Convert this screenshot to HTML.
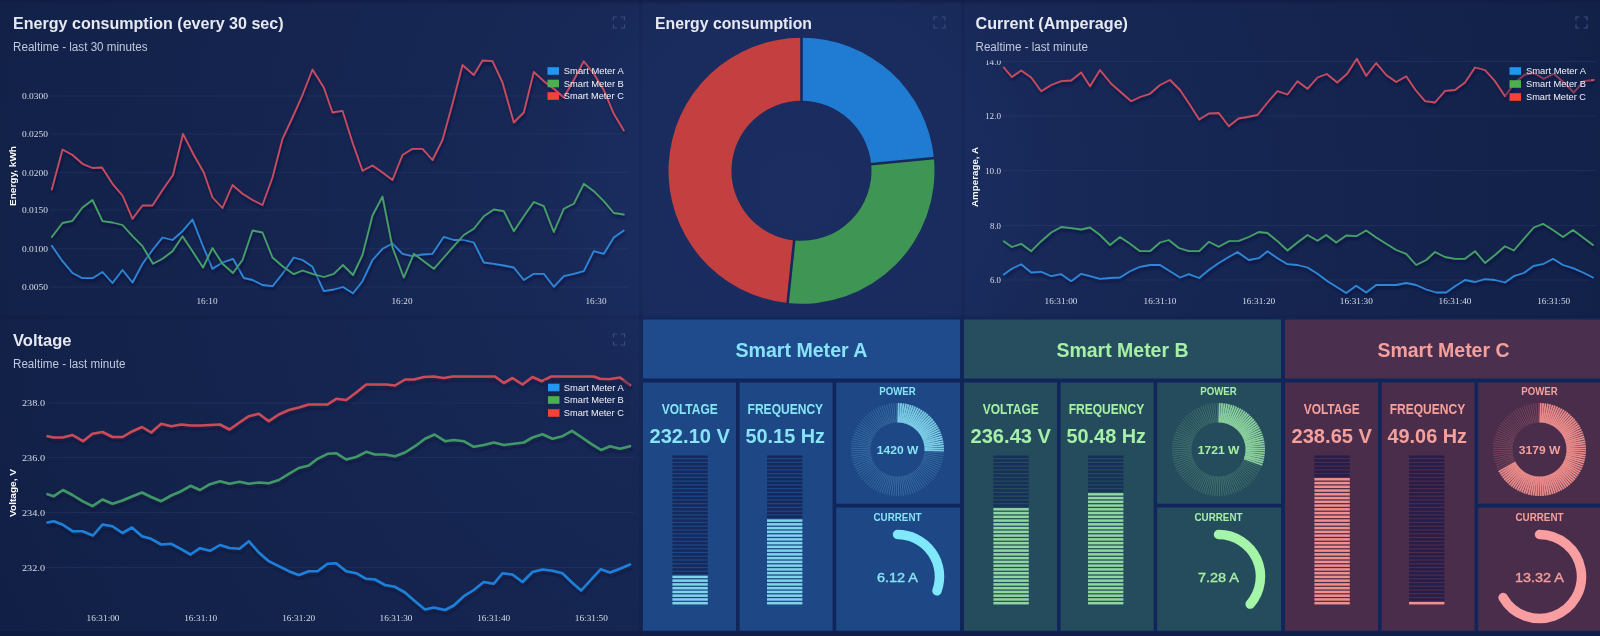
<!DOCTYPE html>
<html><head><meta charset="utf-8"><title>Smart Energy Dashboard</title>
<style>
html,body{margin:0;padding:0;background:#14234c;}
body{width:1600px;height:636px;overflow:hidden;font-family:"Liberation Sans",sans-serif;}
svg{display:block;filter:blur(0.55px);}
</style></head><body>
<svg width="1600" height="636" viewBox="0 0 1600 636">
<defs>
<radialGradient id="pg" gradientUnits="userSpaceOnUse" cx="800" cy="190" r="900"><stop offset="0" stop-color="#1b2d61"/><stop offset="0.2" stop-color="#1a2c5e"/><stop offset="0.32" stop-color="#172856"/><stop offset="0.56" stop-color="#152550"/><stop offset="0.84" stop-color="#13224a"/><stop offset="1" stop-color="#111f46"/></radialGradient>
<linearGradient id="topg" x1="0" y1="0" x2="0" y2="1"><stop offset="0" stop-color="#121c45" stop-opacity="0.9"/><stop offset="1" stop-color="#121c45" stop-opacity="0"/></linearGradient>
<filter id="sh" x="-5%" y="-20%" width="110%" height="150%"><feDropShadow dx="1" dy="2.5" stdDeviation="1.6" flood-color="#0a1030" flood-opacity="0.6"/></filter>
<clipPath id="c14"><rect x="980" y="60.5" width="30" height="10"/></clipPath>
</defs>
<rect x="0" y="0" width="1600" height="636" fill="url(#pg)"/>
<rect x="639" y="0" width="4" height="318" fill="#0c1538" fill-opacity="0.14"/>
<rect x="961" y="0" width="4" height="318" fill="#0c1538" fill-opacity="0.14"/>
<rect x="0" y="315.5" width="1600" height="3.5" fill="#0c1538" fill-opacity="0.14"/>
<rect x="639" y="318" width="4" height="318" fill="#0c1538" fill-opacity="0.14"/>
<rect x="0" y="0" width="1600" height="5" fill="url(#topg)"/>
<line x1="50" y1="96" x2="628" y2="96" stroke="#34447a" stroke-opacity="0.32" stroke-width="1"/><line x1="50" y1="134" x2="628" y2="134" stroke="#34447a" stroke-opacity="0.32" stroke-width="1"/><line x1="50" y1="172.5" x2="628" y2="172.5" stroke="#34447a" stroke-opacity="0.32" stroke-width="1"/><line x1="50" y1="210" x2="628" y2="210" stroke="#34447a" stroke-opacity="0.32" stroke-width="1"/><line x1="50" y1="248.75" x2="628" y2="248.75" stroke="#34447a" stroke-opacity="0.32" stroke-width="1"/><line x1="50" y1="287" x2="628" y2="287" stroke="#34447a" stroke-opacity="0.32" stroke-width="1"/>
<text x="13.0" y="29.0" font-family="Liberation Sans, sans-serif" font-size="15.8" font-weight="bold" fill="#e6e9f2" text-anchor="start" textLength="270.6" lengthAdjust="spacingAndGlyphs">Energy consumption (every 30 sec)</text>
<text x="13.0" y="51.0" font-family="Liberation Sans, sans-serif" font-size="12" font-weight="normal" fill="#c2c8dc" text-anchor="start" textLength="134.6" lengthAdjust="spacingAndGlyphs">Realtime - last 30 minutes</text>
<text x="22.0" y="99.0" font-family="Liberation Serif, sans-serif" font-size="9" font-weight="normal" fill="#d9ddea" text-anchor="start" textLength="26.0" lengthAdjust="spacingAndGlyphs">0.0300</text>
<text x="22.0" y="137.0" font-family="Liberation Serif, sans-serif" font-size="9" font-weight="normal" fill="#d9ddea" text-anchor="start" textLength="26.0" lengthAdjust="spacingAndGlyphs">0.0250</text>
<text x="22.0" y="175.5" font-family="Liberation Serif, sans-serif" font-size="9" font-weight="normal" fill="#d9ddea" text-anchor="start" textLength="26.0" lengthAdjust="spacingAndGlyphs">0.0200</text>
<text x="22.0" y="213.0" font-family="Liberation Serif, sans-serif" font-size="9" font-weight="normal" fill="#d9ddea" text-anchor="start" textLength="26.0" lengthAdjust="spacingAndGlyphs">0.0150</text>
<text x="22.0" y="251.8" font-family="Liberation Serif, sans-serif" font-size="9" font-weight="normal" fill="#d9ddea" text-anchor="start" textLength="26.0" lengthAdjust="spacingAndGlyphs">0.0100</text>
<text x="22.0" y="290.0" font-family="Liberation Serif, sans-serif" font-size="9" font-weight="normal" fill="#d9ddea" text-anchor="start" textLength="26.0" lengthAdjust="spacingAndGlyphs">0.0050</text>
<text x="196.5" y="304.0" font-family="Liberation Serif, sans-serif" font-size="9" font-weight="normal" fill="#d9ddea" text-anchor="start" textLength="21.0" lengthAdjust="spacingAndGlyphs">16:10</text>
<text x="391.5" y="304.0" font-family="Liberation Serif, sans-serif" font-size="9" font-weight="normal" fill="#d9ddea" text-anchor="start" textLength="21.0" lengthAdjust="spacingAndGlyphs">16:20</text>
<text x="585.5" y="304.0" font-family="Liberation Serif, sans-serif" font-size="9" font-weight="normal" fill="#d9ddea" text-anchor="start" textLength="21.0" lengthAdjust="spacingAndGlyphs">16:30</text>
<g transform="translate(15.5,176) rotate(-90)"><text x="-30.0" y="0.0" font-family="Liberation Sans, sans-serif" font-size="9" font-weight="bold" fill="#fff" text-anchor="start" textLength="60.0" lengthAdjust="spacingAndGlyphs">Energy, kWh</text></g>
<polyline points="51.8,245.8 62.5,261.2 72.5,273.0 82.5,278.2 92.5,278.2 102.5,272.0 112.5,283.0 122.5,270.0 132.5,282.5 142.5,263.8 152.5,250.0 162.5,237.5 172.5,240.0 182.5,231.2 192.5,219.5 202.5,245.0 212.5,268.8 222.5,262.5 233.0,258.8 243.8,278.0 252.5,280.0 262.5,285.0 272.5,286.2 282.5,273.8 293.8,257.5 302.5,260.0 312.5,266.8 323.8,291.2 333.8,289.5 343.0,287.0 353.0,293.2 362.5,281.2 372.5,260.0 382.5,248.8 392.5,243.5 402.5,253.8 412.5,256.2 422.5,254.5 432.5,253.8 443.8,236.8 453.8,240.0 463.8,240.0 473.8,242.5 483.8,262.5 493.8,263.8 503.8,265.5 513.8,267.5 523.8,280.0 533.8,273.8 543.8,273.8 553.8,286.8 563.8,276.2 573.8,273.8 583.8,271.2 593.8,251.2 603.8,253.8 613.8,237.5 623.8,230.5" fill="none" stroke="#2e86d8" stroke-width="1.8" stroke-linejoin="round" stroke-linecap="round" filter="url(#sh)"/>
<polyline points="51.8,237.0 62.5,223.0 72.5,220.8 82.5,207.5 92.5,200.0 102.5,221.2 112.5,222.5 122.5,225.0 132.5,236.2 142.5,246.2 153.0,263.8 162.5,258.8 172.5,251.2 182.5,236.2 192.5,251.2 203.0,267.5 212.5,248.0 222.5,263.8 233.0,273.0 242.5,260.0 252.5,230.5 262.5,232.5 272.5,257.5 282.5,266.2 293.8,274.2 302.5,270.5 312.5,273.8 323.8,277.0 333.8,273.8 343.0,265.0 353.0,275.0 362.5,255.0 372.5,215.5 382.5,196.5 392.5,247.5 403.8,277.5 413.8,253.8 423.8,261.2 433.8,268.8 443.8,257.5 453.8,246.2 463.8,235.0 473.8,228.8 483.8,216.2 493.8,209.5 503.8,211.2 513.8,231.2 523.8,216.2 533.8,202.0 543.8,206.2 553.8,232.0 563.8,208.8 573.8,203.8 583.8,183.8 593.8,191.2 603.8,201.2 613.8,213.0 623.8,214.5" fill="none" stroke="#46a068" stroke-width="1.8" stroke-linejoin="round" stroke-linecap="round" filter="url(#sh)"/>
<polyline points="51.8,189.5 62.5,149.5 72.5,155.0 82.5,163.8 92.5,168.0 102.0,167.5 112.5,183.8 122.5,195.5 132.5,218.8 142.5,205.5 152.5,205.5 162.5,190.0 173.0,175.0 183.0,133.8 193.8,155.0 203.8,172.5 212.5,197.5 222.5,208.0 232.5,185.0 242.5,193.8 252.5,200.0 262.5,205.0 272.5,177.5 282.5,138.8 292.5,117.5 302.5,95.0 312.5,69.5 323.8,87.5 332.5,112.5 342.5,110.8 352.5,142.5 362.5,170.8 372.5,165.5 382.5,172.5 392.5,180.0 402.5,155.0 412.5,148.8 422.5,148.8 432.5,160.0 442.5,140.0 452.5,103.8 462.5,65.0 473.8,75.0 482.5,60.5 492.5,61.2 502.5,82.5 513.8,122.5 523.8,112.5 533.8,72.0 543.8,81.2 553.8,88.8 563.8,97.5 573.8,80.0 583.8,61.2 593.8,73.8 603.8,90.0 613.8,113.8 623.8,130.5" fill="none" stroke="#c94c60" stroke-width="1.8" stroke-linejoin="round" stroke-linecap="round" filter="url(#sh)"/>
<rect x="547.5" y="67.2" width="11.5" height="7.6" fill="#2196f3"/><text x="563.8" y="74.2" font-family="Liberation Sans, sans-serif" font-size="9" font-weight="normal" fill="#f0f2f8" text-anchor="start" textLength="60.0" lengthAdjust="spacingAndGlyphs">Smart Meter A</text><rect x="547.5" y="79.7" width="11.5" height="7.6" fill="#4caf50"/><text x="563.8" y="86.7" font-family="Liberation Sans, sans-serif" font-size="9" font-weight="normal" fill="#f0f2f8" text-anchor="start" textLength="60.0" lengthAdjust="spacingAndGlyphs">Smart Meter B</text><rect x="547.5" y="92.2" width="11.5" height="7.6" fill="#f44336"/><text x="563.8" y="99.2" font-family="Liberation Sans, sans-serif" font-size="9" font-weight="normal" fill="#f0f2f8" text-anchor="start" textLength="60.0" lengthAdjust="spacingAndGlyphs">Smart Meter C</text>
<path d="M613.5,20.5V17H617.0 M621.0,17H624.5V20.5 M624.5,24.5V28H621.0 M617.0,28H613.5V24.5" fill="none" stroke="#384a80" stroke-width="1.2"/>
<text x="655.0" y="29.0" font-family="Liberation Sans, sans-serif" font-size="15.8" font-weight="bold" fill="#e6e9f2" text-anchor="start" textLength="157.0" lengthAdjust="spacingAndGlyphs">Energy consumption</text>
<path d="M934,20.5V17H937.5 M941.5,17H945V20.5 M945,24.5V28H941.5 M937.5,28H934V24.5" fill="none" stroke="#384a80" stroke-width="1.2"/>
<path d="M801.50,37.80 A133,133 0 0 1 933.89,158.05 L871.18,164.09 A70,70 0 0 0 801.50,100.80 Z" fill="#207cd2"/>
<path d="M933.89,158.05 A133,133 0 0 1 787.60,303.07 L794.18,240.42 A70,70 0 0 0 871.18,164.09 Z" fill="#3f9553"/>
<path d="M787.60,303.07 A133,133 0 0 1 801.50,37.80 L801.50,100.80 A70,70 0 0 0 794.18,240.42 Z" fill="#c44040"/>
<line x1="801.50" y1="101.80" x2="801.50" y2="36.80" stroke="#17285a" stroke-width="2.6"/>
<line x1="870.18" y1="164.19" x2="934.88" y2="157.96" stroke="#17285a" stroke-width="2.6"/>
<line x1="794.29" y1="239.42" x2="787.49" y2="304.07" stroke="#17285a" stroke-width="2.6"/>
<line x1="1002" y1="61.5" x2="1596" y2="61.5" stroke="#34447a" stroke-opacity="0.32" stroke-width="1"/><line x1="1002" y1="116" x2="1596" y2="116" stroke="#34447a" stroke-opacity="0.32" stroke-width="1"/><line x1="1002" y1="170.5" x2="1596" y2="170.5" stroke="#34447a" stroke-opacity="0.32" stroke-width="1"/><line x1="1002" y1="225.5" x2="1596" y2="225.5" stroke="#34447a" stroke-opacity="0.32" stroke-width="1"/><line x1="1002" y1="280" x2="1596" y2="280" stroke="#34447a" stroke-opacity="0.32" stroke-width="1"/>
<text x="975.5" y="29.0" font-family="Liberation Sans, sans-serif" font-size="15.8" font-weight="bold" fill="#e6e9f2" text-anchor="start" textLength="152.5" lengthAdjust="spacingAndGlyphs">Current (Amperage)</text>
<text x="975.5" y="51.0" font-family="Liberation Sans, sans-serif" font-size="12" font-weight="normal" fill="#c2c8dc" text-anchor="start" textLength="112.5" lengthAdjust="spacingAndGlyphs">Realtime - last minute</text>
<text x="985.0" y="64.5" font-family="Liberation Serif, sans-serif" font-size="9" font-weight="normal" fill="#d9ddea" text-anchor="start" textLength="16.0" lengthAdjust="spacingAndGlyphs" clip-path="url(#c14)">14.0</text>
<text x="985.0" y="119.0" font-family="Liberation Serif, sans-serif" font-size="9" font-weight="normal" fill="#d9ddea" text-anchor="start" textLength="16.0" lengthAdjust="spacingAndGlyphs">12.0</text>
<text x="985.0" y="173.5" font-family="Liberation Serif, sans-serif" font-size="9" font-weight="normal" fill="#d9ddea" text-anchor="start" textLength="16.0" lengthAdjust="spacingAndGlyphs">10.0</text>
<text x="990.0" y="228.5" font-family="Liberation Serif, sans-serif" font-size="9" font-weight="normal" fill="#d9ddea" text-anchor="start" textLength="11.0" lengthAdjust="spacingAndGlyphs">8.0</text>
<text x="990.0" y="283.0" font-family="Liberation Serif, sans-serif" font-size="9" font-weight="normal" fill="#d9ddea" text-anchor="start" textLength="11.0" lengthAdjust="spacingAndGlyphs">6.0</text>
<text x="1044.5" y="303.8" font-family="Liberation Serif, sans-serif" font-size="9" font-weight="normal" fill="#d9ddea" text-anchor="start" textLength="33.0" lengthAdjust="spacingAndGlyphs">16:31:00</text>
<text x="1143.5" y="303.8" font-family="Liberation Serif, sans-serif" font-size="9" font-weight="normal" fill="#d9ddea" text-anchor="start" textLength="33.0" lengthAdjust="spacingAndGlyphs">16:31:10</text>
<text x="1242.2" y="303.8" font-family="Liberation Serif, sans-serif" font-size="9" font-weight="normal" fill="#d9ddea" text-anchor="start" textLength="33.0" lengthAdjust="spacingAndGlyphs">16:31:20</text>
<text x="1339.8" y="303.8" font-family="Liberation Serif, sans-serif" font-size="9" font-weight="normal" fill="#d9ddea" text-anchor="start" textLength="33.0" lengthAdjust="spacingAndGlyphs">16:31:30</text>
<text x="1438.5" y="303.8" font-family="Liberation Serif, sans-serif" font-size="9" font-weight="normal" fill="#d9ddea" text-anchor="start" textLength="33.0" lengthAdjust="spacingAndGlyphs">16:31:40</text>
<text x="1537.2" y="303.8" font-family="Liberation Serif, sans-serif" font-size="9" font-weight="normal" fill="#d9ddea" text-anchor="start" textLength="33.0" lengthAdjust="spacingAndGlyphs">16:31:50</text>
<g transform="translate(978,177) rotate(-90)"><text x="-30.0" y="0.0" font-family="Liberation Sans, sans-serif" font-size="9" font-weight="bold" fill="#fff" text-anchor="start" textLength="60.0" lengthAdjust="spacingAndGlyphs">Amperage, A</text></g>
<polyline points="1003.8,274.5 1011.8,268.8 1021.2,264.2 1031.2,272.5 1041.2,271.8 1051.2,276.2 1061.2,274.2 1071.2,281.2 1081.2,273.8 1090.0,276.2 1100.0,278.8 1110.0,278.0 1120.0,277.5 1130.0,271.2 1140.0,266.8 1150.0,265.0 1160.0,265.0 1170.0,271.2 1180.0,277.5 1188.8,274.2 1199.2,278.0 1208.8,270.0 1218.8,263.0 1228.8,257.0 1237.5,252.0 1248.8,260.0 1258.8,258.2 1267.5,251.2 1277.5,258.2 1287.5,264.2 1297.5,265.0 1307.5,267.5 1317.5,273.8 1327.5,281.2 1337.5,287.5 1346.2,293.0 1356.2,285.8 1366.2,292.5 1376.2,285.0 1386.2,285.0 1396.2,285.0 1406.2,283.0 1416.2,285.0 1426.2,289.5 1436.2,292.5 1446.2,292.5 1455.0,286.2 1465.0,280.0 1475.0,282.0 1485.0,279.2 1495.0,280.0 1505.0,282.5 1513.8,276.2 1523.8,273.0 1533.8,265.8 1543.8,263.8 1553.0,258.8 1563.0,265.0 1573.0,268.2 1583.0,272.5 1593.0,277.5" fill="none" stroke="#2e86d8" stroke-width="1.8" stroke-linejoin="round" stroke-linecap="round" filter="url(#sh)"/>
<polyline points="1003.8,241.2 1011.8,247.0 1021.2,243.8 1031.2,251.2 1041.2,241.2 1051.2,232.5 1061.2,227.0 1071.2,228.2 1081.2,229.5 1090.0,227.5 1100.0,235.0 1110.0,245.0 1120.0,237.0 1130.0,243.8 1140.0,251.2 1150.0,251.2 1160.0,242.5 1168.8,240.0 1178.8,248.0 1188.8,251.2 1199.2,251.2 1208.8,241.8 1218.8,246.8 1228.8,241.2 1238.8,240.8 1248.8,237.0 1258.8,232.0 1267.5,233.0 1277.5,241.2 1287.5,250.5 1297.5,242.5 1307.5,235.0 1317.5,240.8 1326.2,235.0 1336.2,242.5 1346.2,235.5 1356.2,236.2 1366.2,230.5 1376.2,237.5 1386.2,243.8 1396.2,250.0 1406.2,253.8 1416.2,265.0 1426.2,260.0 1435.0,252.0 1445.0,257.0 1455.0,258.8 1465.0,258.8 1475.0,251.2 1485.0,263.0 1495.0,255.0 1505.0,246.2 1513.8,250.5 1523.8,238.8 1533.8,227.5 1543.0,223.8 1553.0,230.0 1563.0,237.0 1573.0,230.0 1583.0,237.5 1593.0,245.0" fill="none" stroke="#46a068" stroke-width="1.8" stroke-linejoin="round" stroke-linecap="round" filter="url(#sh)"/>
<polyline points="1003.8,67.5 1011.8,77.0 1021.2,70.5 1031.2,77.5 1041.2,91.2 1051.2,85.0 1061.2,81.2 1071.2,80.5 1081.2,72.5 1090.0,86.2 1100.0,70.0 1111.2,83.8 1121.2,92.5 1131.2,101.2 1140.0,97.0 1150.0,93.8 1160.0,85.0 1170.0,80.0 1180.0,90.0 1190.0,105.0 1199.2,119.5 1208.8,113.5 1218.8,113.0 1228.8,126.2 1238.5,118.5 1247.5,117.0 1257.5,115.0 1267.5,102.5 1277.5,91.2 1287.5,94.5 1297.5,81.2 1307.5,88.8 1317.5,77.5 1326.8,74.0 1337.2,82.5 1347.2,73.8 1356.8,58.8 1366.2,75.8 1376.2,63.0 1386.2,75.0 1396.2,82.0 1406.2,76.2 1415.5,90.0 1425.0,101.2 1435.0,102.5 1445.0,90.8 1455.0,90.0 1465.0,82.5 1475.0,67.5 1485.0,70.0 1495.0,81.2 1505.0,96.2 1515.0,82.5 1525.0,74.5 1533.8,73.0 1543.8,78.8 1553.8,73.8 1563.8,82.5 1573.8,92.5 1583.8,81.2 1593.8,80.0" fill="none" stroke="#c94c60" stroke-width="1.8" stroke-linejoin="round" stroke-linecap="round" filter="url(#sh)"/>
<rect x="1505" y="63" width="86" height="42" fill="#14214e" fill-opacity="0.35"/><rect x="1509.5" y="67.2" width="11.5" height="7.6" fill="#2196f3"/><text x="1526.0" y="74.2" font-family="Liberation Sans, sans-serif" font-size="9" font-weight="normal" fill="#f0f2f8" text-anchor="start" textLength="60.0" lengthAdjust="spacingAndGlyphs">Smart Meter A</text><rect x="1509.5" y="80.2" width="11.5" height="7.6" fill="#4caf50"/><text x="1526.0" y="87.2" font-family="Liberation Sans, sans-serif" font-size="9" font-weight="normal" fill="#f0f2f8" text-anchor="start" textLength="60.0" lengthAdjust="spacingAndGlyphs">Smart Meter B</text><rect x="1509.5" y="93.2" width="11.5" height="7.6" fill="#f44336"/><text x="1526.0" y="100.2" font-family="Liberation Sans, sans-serif" font-size="9" font-weight="normal" fill="#f0f2f8" text-anchor="start" textLength="60.0" lengthAdjust="spacingAndGlyphs">Smart Meter C</text>
<path d="M1576,20.5V17H1579.5 M1583.5,17H1587V20.5 M1587,24.5V28H1583.5 M1579.5,28H1576V24.5" fill="none" stroke="#384a80" stroke-width="1.2"/>
<line x1="46" y1="403" x2="634" y2="403" stroke="#34447a" stroke-opacity="0.32" stroke-width="1"/><line x1="46" y1="457.5" x2="634" y2="457.5" stroke="#34447a" stroke-opacity="0.32" stroke-width="1"/><line x1="46" y1="512.5" x2="634" y2="512.5" stroke="#34447a" stroke-opacity="0.32" stroke-width="1"/><line x1="46" y1="567.5" x2="634" y2="567.5" stroke="#34447a" stroke-opacity="0.32" stroke-width="1"/>
<text x="13.0" y="346.0" font-family="Liberation Sans, sans-serif" font-size="15.8" font-weight="bold" fill="#e6e9f2" text-anchor="start" textLength="58.5" lengthAdjust="spacingAndGlyphs">Voltage</text>
<text x="13.0" y="368.0" font-family="Liberation Sans, sans-serif" font-size="12" font-weight="normal" fill="#c2c8dc" text-anchor="start" textLength="112.5" lengthAdjust="spacingAndGlyphs">Realtime - last minute</text>
<text x="22.0" y="406.0" font-family="Liberation Serif, sans-serif" font-size="9" font-weight="normal" fill="#d9ddea" text-anchor="start" textLength="23.0" lengthAdjust="spacingAndGlyphs">238.0</text>
<text x="22.0" y="460.5" font-family="Liberation Serif, sans-serif" font-size="9" font-weight="normal" fill="#d9ddea" text-anchor="start" textLength="23.0" lengthAdjust="spacingAndGlyphs">236.0</text>
<text x="22.0" y="515.5" font-family="Liberation Serif, sans-serif" font-size="9" font-weight="normal" fill="#d9ddea" text-anchor="start" textLength="23.0" lengthAdjust="spacingAndGlyphs">234.0</text>
<text x="22.0" y="570.5" font-family="Liberation Serif, sans-serif" font-size="9" font-weight="normal" fill="#d9ddea" text-anchor="start" textLength="23.0" lengthAdjust="spacingAndGlyphs">232.0</text>
<text x="86.5" y="621.0" font-family="Liberation Serif, sans-serif" font-size="9" font-weight="normal" fill="#d9ddea" text-anchor="start" textLength="33.0" lengthAdjust="spacingAndGlyphs">16:31:00</text>
<text x="184.2" y="621.0" font-family="Liberation Serif, sans-serif" font-size="9" font-weight="normal" fill="#d9ddea" text-anchor="start" textLength="33.0" lengthAdjust="spacingAndGlyphs">16:31:10</text>
<text x="282.2" y="621.0" font-family="Liberation Serif, sans-serif" font-size="9" font-weight="normal" fill="#d9ddea" text-anchor="start" textLength="33.0" lengthAdjust="spacingAndGlyphs">16:31:20</text>
<text x="379.5" y="621.0" font-family="Liberation Serif, sans-serif" font-size="9" font-weight="normal" fill="#d9ddea" text-anchor="start" textLength="33.0" lengthAdjust="spacingAndGlyphs">16:31:30</text>
<text x="477.2" y="621.0" font-family="Liberation Serif, sans-serif" font-size="9" font-weight="normal" fill="#d9ddea" text-anchor="start" textLength="33.0" lengthAdjust="spacingAndGlyphs">16:31:40</text>
<text x="574.8" y="621.0" font-family="Liberation Serif, sans-serif" font-size="9" font-weight="normal" fill="#d9ddea" text-anchor="start" textLength="33.0" lengthAdjust="spacingAndGlyphs">16:31:50</text>
<g transform="translate(16,493) rotate(-90)"><text x="-24.0" y="0.0" font-family="Liberation Sans, sans-serif" font-size="9" font-weight="bold" fill="#fff" text-anchor="start" textLength="48.0" lengthAdjust="spacingAndGlyphs">Voltage, V</text></g>
<polyline points="47.5,522.5 53.8,521.2 62.5,524.5 72.5,531.2 82.5,531.2 93.0,535.5 102.5,524.5 112.5,526.2 122.5,533.0 132.0,527.5 142.0,536.2 151.2,538.8 161.2,544.5 171.2,543.8 181.2,549.2 190.5,554.5 200.0,548.2 210.0,550.8 220.0,545.0 229.5,548.0 239.5,548.8 248.8,541.2 258.8,552.5 268.8,561.2 278.8,566.2 288.8,571.2 298.8,575.0 308.8,571.2 317.5,571.2 327.5,563.8 336.2,563.2 346.2,571.2 356.2,573.2 366.2,578.8 375.0,579.5 385.0,585.0 395.0,586.8 405.0,592.5 415.0,601.2 425.0,609.5 433.8,607.5 445.0,610.0 453.8,605.5 463.8,596.2 473.8,590.0 483.8,582.0 493.8,583.8 502.5,573.2 512.5,574.5 522.5,582.0 532.5,572.0 542.5,569.5 552.5,570.8 562.5,573.2 572.0,582.5 581.2,590.5 591.2,579.5 600.8,569.2 610.0,572.5 620.0,568.8 630.0,564.5" fill="none" stroke="#1f80da" stroke-width="2.6" stroke-linejoin="round" stroke-linecap="round" filter="url(#sh)"/>
<polyline points="47.5,494.2 53.8,496.2 63.0,490.0 72.5,495.0 82.5,501.2 92.5,506.2 102.5,499.5 112.5,503.8 122.5,500.5 132.5,496.2 142.0,492.5 151.2,497.0 161.2,501.2 171.2,495.5 181.2,491.2 190.5,485.8 200.0,490.0 210.0,484.2 220.0,481.2 229.5,483.8 239.5,481.8 248.8,483.8 258.8,482.5 268.8,483.2 278.8,480.0 288.8,473.8 298.8,468.0 308.8,465.5 317.5,458.8 327.5,453.8 336.2,453.2 346.2,459.5 356.2,457.0 366.2,451.8 375.0,454.5 385.0,454.5 395.0,456.2 405.0,452.5 415.0,446.2 425.0,438.8 434.5,434.5 445.0,441.2 453.8,440.0 463.8,441.2 473.8,446.8 483.8,445.0 493.8,442.5 503.8,445.0 513.8,443.8 523.8,442.5 532.5,437.5 542.5,434.2 552.5,438.8 562.5,436.2 572.0,430.8 581.2,437.0 591.2,443.8 601.2,450.0 610.0,446.2 620.0,448.8 630.0,446.2" fill="none" stroke="#3f9768" stroke-width="2.6" stroke-linejoin="round" stroke-linecap="round" filter="url(#sh)"/>
<polyline points="47.5,436.2 53.8,437.5 62.5,437.5 72.5,435.0 83.0,441.2 92.5,433.8 102.5,432.0 112.5,437.0 122.5,437.0 132.5,431.2 142.0,427.0 151.2,432.5 161.2,423.8 171.2,426.2 181.2,424.5 191.2,425.5 201.2,425.5 210.0,425.0 220.0,424.5 229.5,429.5 239.5,422.5 248.8,416.2 258.8,413.8 268.8,421.2 278.8,414.5 288.8,410.0 298.8,407.5 308.8,404.5 317.5,404.5 327.5,404.5 336.2,398.8 346.2,400.0 356.2,392.5 366.2,384.5 376.2,384.5 386.2,384.5 395.0,385.5 405.0,379.5 413.8,379.5 423.8,377.0 433.8,376.5 443.8,378.0 452.5,376.5 495.0,376.5 503.8,383.0 512.5,378.0 522.5,384.5 532.5,377.0 542.0,381.2 551.2,376.5 593.8,376.5 600.0,378.8 608.8,379.2 620.0,377.5 630.0,385.0" fill="none" stroke="#cc4a5a" stroke-width="2.6" stroke-linejoin="round" stroke-linecap="round" filter="url(#sh)"/>
<rect x="544" y="380" width="86" height="40" fill="#14214e" fill-opacity="0.35"/><rect x="548" y="383.7" width="11.5" height="7.6" fill="#2196f3"/><text x="563.8" y="390.7" font-family="Liberation Sans, sans-serif" font-size="9" font-weight="normal" fill="#f0f2f8" text-anchor="start" textLength="60.0" lengthAdjust="spacingAndGlyphs">Smart Meter A</text><rect x="548" y="396.2" width="11.5" height="7.6" fill="#4caf50"/><text x="563.8" y="403.2" font-family="Liberation Sans, sans-serif" font-size="9" font-weight="normal" fill="#f0f2f8" text-anchor="start" textLength="60.0" lengthAdjust="spacingAndGlyphs">Smart Meter B</text><rect x="548" y="409.2" width="11.5" height="7.6" fill="#f44336"/><text x="563.8" y="416.2" font-family="Liberation Sans, sans-serif" font-size="9" font-weight="normal" fill="#f0f2f8" text-anchor="start" textLength="60.0" lengthAdjust="spacingAndGlyphs">Smart Meter C</text>
<path d="M613.5,337.5V334H617.0 M621.0,334H624.5V337.5 M624.5,341.5V345H621.0 M617.0,345H613.5V341.5" fill="none" stroke="#384a80" stroke-width="1.2"/>
<rect x="0" y="631" width="642" height="5" fill="#0c173c" fill-opacity="0.45"/>
<rect x="642" y="318" width="960" height="318" fill="#10255a"/>
<rect x="642" y="631.5" width="960" height="5" fill="#101f4a"/>
<rect x="643" y="319.5" width="317" height="59" fill="#1f4a8b"/>
<rect x="643" y="382.5" width="93" height="248.2" fill="#1d4785"/>
<rect x="739.6" y="382.5" width="93" height="248.2" fill="#1d4785"/>
<rect x="836.2" y="382.5" width="123.8" height="121.2" fill="#1d4785"/>
<rect x="836.2" y="507.5" width="123.8" height="123.2" fill="#1d4785"/>
<text x="735.5" y="357.3" font-family="Liberation Sans, sans-serif" font-size="20" font-weight="bold" fill="#86e4f6" text-anchor="start" textLength="132.0" lengthAdjust="spacingAndGlyphs">Smart Meter A</text>
<text x="661.7" y="413.8" font-family="Liberation Sans, sans-serif" font-size="14.6" font-weight="bold" fill="#86e4f6" text-anchor="start" textLength="56.0" lengthAdjust="spacingAndGlyphs">VOLTAGE</text>
<text x="747.6" y="413.8" font-family="Liberation Sans, sans-serif" font-size="14.6" font-weight="bold" fill="#86e4f6" text-anchor="start" textLength="75.5" lengthAdjust="spacingAndGlyphs">FREQUENCY</text>
<text x="649.5" y="442.8" font-family="Liberation Sans, sans-serif" font-size="20" font-weight="bold" fill="#86e4f6" text-anchor="start" textLength="80.5" lengthAdjust="spacingAndGlyphs">232.10 V</text>
<text x="745.5" y="442.8" font-family="Liberation Sans, sans-serif" font-size="20" font-weight="bold" fill="#86e4f6" text-anchor="start" textLength="79.5" lengthAdjust="spacingAndGlyphs">50.15 Hz</text>
<text x="879.2" y="394.5" font-family="Liberation Sans, sans-serif" font-size="10.2" font-weight="bold" fill="#86e4f6" text-anchor="start" textLength="36.5" lengthAdjust="spacingAndGlyphs">POWER</text>
<text x="873.5" y="520.7" font-family="Liberation Sans, sans-serif" font-size="10.2" font-weight="bold" fill="#86e4f6" text-anchor="start" textLength="48.0" lengthAdjust="spacingAndGlyphs">CURRENT</text>
<rect x="672.4" y="455.50" width="35.4" height="2.5" fill="#15295d"/>
<rect x="672.4" y="459.25" width="35.4" height="2.5" fill="#15295d"/>
<rect x="672.4" y="463.01" width="35.4" height="2.5" fill="#15295d"/>
<rect x="672.4" y="466.76" width="35.4" height="2.5" fill="#15295d"/>
<rect x="672.4" y="470.52" width="35.4" height="2.5" fill="#15295d"/>
<rect x="672.4" y="474.27" width="35.4" height="2.5" fill="#15295d"/>
<rect x="672.4" y="478.03" width="35.4" height="2.5" fill="#15295d"/>
<rect x="672.4" y="481.79" width="35.4" height="2.5" fill="#15295d"/>
<rect x="672.4" y="485.54" width="35.4" height="2.5" fill="#15295d"/>
<rect x="672.4" y="489.30" width="35.4" height="2.5" fill="#15295d"/>
<rect x="672.4" y="493.05" width="35.4" height="2.5" fill="#15295d"/>
<rect x="672.4" y="496.81" width="35.4" height="2.5" fill="#15295d"/>
<rect x="672.4" y="500.56" width="35.4" height="2.5" fill="#15295d"/>
<rect x="672.4" y="504.31" width="35.4" height="2.5" fill="#15295d"/>
<rect x="672.4" y="508.07" width="35.4" height="2.5" fill="#15295d"/>
<rect x="672.4" y="511.82" width="35.4" height="2.5" fill="#15295d"/>
<rect x="672.4" y="515.58" width="35.4" height="2.5" fill="#15295d"/>
<rect x="672.4" y="519.34" width="35.4" height="2.5" fill="#15295d"/>
<rect x="672.4" y="523.09" width="35.4" height="2.5" fill="#15295d"/>
<rect x="672.4" y="526.85" width="35.4" height="2.5" fill="#15295d"/>
<rect x="672.4" y="530.60" width="35.4" height="2.5" fill="#15295d"/>
<rect x="672.4" y="534.36" width="35.4" height="2.5" fill="#15295d"/>
<rect x="672.4" y="538.11" width="35.4" height="2.5" fill="#15295d"/>
<rect x="672.4" y="541.87" width="35.4" height="2.5" fill="#15295d"/>
<rect x="672.4" y="545.62" width="35.4" height="2.5" fill="#15295d"/>
<rect x="672.4" y="549.38" width="35.4" height="2.5" fill="#15295d"/>
<rect x="672.4" y="553.13" width="35.4" height="2.5" fill="#15295d"/>
<rect x="672.4" y="556.88" width="35.4" height="2.5" fill="#15295d"/>
<rect x="672.4" y="560.64" width="35.4" height="2.5" fill="#15295d"/>
<rect x="672.4" y="564.39" width="35.4" height="2.5" fill="#15295d"/>
<rect x="672.4" y="568.15" width="35.4" height="2.5" fill="#15295d"/>
<rect x="672.4" y="571.90" width="35.4" height="2.5" fill="#15295d"/>
<rect x="672.4" y="575.66" width="35.4" height="2.5" fill="#7fd3ea"/>
<rect x="672.4" y="579.41" width="35.4" height="2.5" fill="#7fd3ea"/>
<rect x="672.4" y="583.17" width="35.4" height="2.5" fill="#7fd3ea"/>
<rect x="672.4" y="586.92" width="35.4" height="2.5" fill="#7fd3ea"/>
<rect x="672.4" y="590.68" width="35.4" height="2.5" fill="#7fd3ea"/>
<rect x="672.4" y="594.43" width="35.4" height="2.5" fill="#7fd3ea"/>
<rect x="672.4" y="598.19" width="35.4" height="2.5" fill="#7fd3ea"/>
<rect x="672.4" y="601.94" width="35.4" height="2.5" fill="#7fd3ea"/>
<rect x="767.0" y="455.50" width="35.4" height="2.5" fill="#15295d"/>
<rect x="767.0" y="459.25" width="35.4" height="2.5" fill="#15295d"/>
<rect x="767.0" y="463.01" width="35.4" height="2.5" fill="#15295d"/>
<rect x="767.0" y="466.76" width="35.4" height="2.5" fill="#15295d"/>
<rect x="767.0" y="470.52" width="35.4" height="2.5" fill="#15295d"/>
<rect x="767.0" y="474.27" width="35.4" height="2.5" fill="#15295d"/>
<rect x="767.0" y="478.03" width="35.4" height="2.5" fill="#15295d"/>
<rect x="767.0" y="481.79" width="35.4" height="2.5" fill="#15295d"/>
<rect x="767.0" y="485.54" width="35.4" height="2.5" fill="#15295d"/>
<rect x="767.0" y="489.30" width="35.4" height="2.5" fill="#15295d"/>
<rect x="767.0" y="493.05" width="35.4" height="2.5" fill="#15295d"/>
<rect x="767.0" y="496.81" width="35.4" height="2.5" fill="#15295d"/>
<rect x="767.0" y="500.56" width="35.4" height="2.5" fill="#15295d"/>
<rect x="767.0" y="504.31" width="35.4" height="2.5" fill="#15295d"/>
<rect x="767.0" y="508.07" width="35.4" height="2.5" fill="#15295d"/>
<rect x="767.0" y="511.82" width="35.4" height="2.5" fill="#15295d"/>
<rect x="767.0" y="515.58" width="35.4" height="2.5" fill="#15295d"/>
<rect x="767.0" y="519.34" width="35.4" height="2.5" fill="#7fd3ea"/>
<rect x="767.0" y="523.09" width="35.4" height="2.5" fill="#7fd3ea"/>
<rect x="767.0" y="526.85" width="35.4" height="2.5" fill="#7fd3ea"/>
<rect x="767.0" y="530.60" width="35.4" height="2.5" fill="#7fd3ea"/>
<rect x="767.0" y="534.36" width="35.4" height="2.5" fill="#7fd3ea"/>
<rect x="767.0" y="538.11" width="35.4" height="2.5" fill="#7fd3ea"/>
<rect x="767.0" y="541.87" width="35.4" height="2.5" fill="#7fd3ea"/>
<rect x="767.0" y="545.62" width="35.4" height="2.5" fill="#7fd3ea"/>
<rect x="767.0" y="549.38" width="35.4" height="2.5" fill="#7fd3ea"/>
<rect x="767.0" y="553.13" width="35.4" height="2.5" fill="#7fd3ea"/>
<rect x="767.0" y="556.88" width="35.4" height="2.5" fill="#7fd3ea"/>
<rect x="767.0" y="560.64" width="35.4" height="2.5" fill="#7fd3ea"/>
<rect x="767.0" y="564.39" width="35.4" height="2.5" fill="#7fd3ea"/>
<rect x="767.0" y="568.15" width="35.4" height="2.5" fill="#7fd3ea"/>
<rect x="767.0" y="571.90" width="35.4" height="2.5" fill="#7fd3ea"/>
<rect x="767.0" y="575.66" width="35.4" height="2.5" fill="#7fd3ea"/>
<rect x="767.0" y="579.41" width="35.4" height="2.5" fill="#7fd3ea"/>
<rect x="767.0" y="583.17" width="35.4" height="2.5" fill="#7fd3ea"/>
<rect x="767.0" y="586.92" width="35.4" height="2.5" fill="#7fd3ea"/>
<rect x="767.0" y="590.68" width="35.4" height="2.5" fill="#7fd3ea"/>
<rect x="767.0" y="594.43" width="35.4" height="2.5" fill="#7fd3ea"/>
<rect x="767.0" y="598.19" width="35.4" height="2.5" fill="#7fd3ea"/>
<rect x="767.0" y="601.94" width="35.4" height="2.5" fill="#7fd3ea"/>
<line x1="898.21" y1="422.51" x2="898.72" y2="403.02" stroke="#7fd3ea" stroke-opacity="0.95" stroke-width="1.8"/>
<line x1="899.62" y1="422.58" x2="901.15" y2="403.14" stroke="#7fd3ea" stroke-opacity="0.95" stroke-width="1.8"/>
<line x1="901.02" y1="422.73" x2="903.57" y2="403.40" stroke="#7fd3ea" stroke-opacity="0.95" stroke-width="1.8"/>
<line x1="902.42" y1="422.95" x2="905.97" y2="403.78" stroke="#7fd3ea" stroke-opacity="0.95" stroke-width="1.8"/>
<line x1="903.80" y1="423.25" x2="908.36" y2="404.28" stroke="#7fd3ea" stroke-opacity="0.95" stroke-width="1.8"/>
<line x1="905.17" y1="423.61" x2="910.71" y2="404.91" stroke="#7fd3ea" stroke-opacity="0.95" stroke-width="1.8"/>
<line x1="906.51" y1="424.05" x2="913.02" y2="405.67" stroke="#7fd3ea" stroke-opacity="0.95" stroke-width="1.8"/>
<line x1="907.83" y1="424.56" x2="915.29" y2="406.54" stroke="#7fd3ea" stroke-opacity="0.95" stroke-width="1.8"/>
<line x1="909.12" y1="425.13" x2="917.52" y2="407.53" stroke="#7fd3ea" stroke-opacity="0.95" stroke-width="1.8"/>
<line x1="910.38" y1="425.77" x2="919.69" y2="408.64" stroke="#7fd3ea" stroke-opacity="0.95" stroke-width="1.8"/>
<line x1="911.61" y1="426.48" x2="921.80" y2="409.85" stroke="#7fd3ea" stroke-opacity="0.95" stroke-width="1.8"/>
<line x1="912.79" y1="427.25" x2="923.84" y2="411.18" stroke="#7fd3ea" stroke-opacity="0.95" stroke-width="1.8"/>
<line x1="913.94" y1="428.08" x2="925.81" y2="412.61" stroke="#7fd3ea" stroke-opacity="0.95" stroke-width="1.8"/>
<line x1="915.04" y1="428.97" x2="927.70" y2="414.14" stroke="#7fd3ea" stroke-opacity="0.95" stroke-width="1.8"/>
<line x1="916.09" y1="429.91" x2="929.51" y2="415.77" stroke="#7fd3ea" stroke-opacity="0.95" stroke-width="1.8"/>
<line x1="917.09" y1="430.91" x2="931.23" y2="417.49" stroke="#7fd3ea" stroke-opacity="0.95" stroke-width="1.8"/>
<line x1="918.03" y1="431.96" x2="932.86" y2="419.30" stroke="#7fd3ea" stroke-opacity="0.95" stroke-width="1.8"/>
<line x1="918.92" y1="433.06" x2="934.39" y2="421.19" stroke="#7fd3ea" stroke-opacity="0.95" stroke-width="1.8"/>
<line x1="919.75" y1="434.21" x2="935.82" y2="423.16" stroke="#7fd3ea" stroke-opacity="0.95" stroke-width="1.8"/>
<line x1="920.52" y1="435.39" x2="937.15" y2="425.20" stroke="#7fd3ea" stroke-opacity="0.95" stroke-width="1.8"/>
<line x1="921.23" y1="436.62" x2="938.36" y2="427.31" stroke="#7fd3ea" stroke-opacity="0.95" stroke-width="1.8"/>
<line x1="921.87" y1="437.88" x2="939.47" y2="429.48" stroke="#7fd3ea" stroke-opacity="0.95" stroke-width="1.8"/>
<line x1="922.44" y1="439.17" x2="940.46" y2="431.71" stroke="#7fd3ea" stroke-opacity="0.95" stroke-width="1.8"/>
<line x1="922.95" y1="440.49" x2="941.33" y2="433.98" stroke="#7fd3ea" stroke-opacity="0.95" stroke-width="1.8"/>
<line x1="923.39" y1="441.83" x2="942.09" y2="436.29" stroke="#7fd3ea" stroke-opacity="0.95" stroke-width="1.8"/>
<line x1="923.75" y1="443.20" x2="942.72" y2="438.64" stroke="#7fd3ea" stroke-opacity="0.95" stroke-width="1.8"/>
<line x1="924.05" y1="444.58" x2="943.22" y2="441.03" stroke="#7fd3ea" stroke-opacity="0.95" stroke-width="1.8"/>
<line x1="924.27" y1="445.98" x2="943.60" y2="443.43" stroke="#7fd3ea" stroke-opacity="0.95" stroke-width="1.8"/>
<line x1="924.42" y1="447.38" x2="943.86" y2="445.85" stroke="#7fd3ea" stroke-opacity="0.95" stroke-width="1.8"/>
<line x1="924.49" y1="448.79" x2="943.98" y2="448.28" stroke="#7fd3ea" stroke-opacity="0.95" stroke-width="1.8"/>
<line x1="924.49" y1="450.21" x2="943.98" y2="450.72" stroke="#7fd3ea" stroke-opacity="0.95" stroke-width="1.8"/>
<line x1="924.42" y1="451.62" x2="943.86" y2="453.15" stroke="#7fd3ea" stroke-opacity="0.25" stroke-width="1.0"/>
<line x1="924.27" y1="453.02" x2="943.60" y2="455.57" stroke="#7fd3ea" stroke-opacity="0.25" stroke-width="1.0"/>
<line x1="924.05" y1="454.42" x2="943.22" y2="457.97" stroke="#7fd3ea" stroke-opacity="0.25" stroke-width="1.0"/>
<line x1="923.75" y1="455.80" x2="942.72" y2="460.36" stroke="#7fd3ea" stroke-opacity="0.25" stroke-width="1.0"/>
<line x1="923.39" y1="457.17" x2="942.09" y2="462.71" stroke="#7fd3ea" stroke-opacity="0.25" stroke-width="1.0"/>
<line x1="922.95" y1="458.51" x2="941.33" y2="465.02" stroke="#7fd3ea" stroke-opacity="0.25" stroke-width="1.0"/>
<line x1="922.44" y1="459.83" x2="940.46" y2="467.29" stroke="#7fd3ea" stroke-opacity="0.25" stroke-width="1.0"/>
<line x1="921.87" y1="461.12" x2="939.47" y2="469.52" stroke="#7fd3ea" stroke-opacity="0.25" stroke-width="1.0"/>
<line x1="921.23" y1="462.38" x2="938.36" y2="471.69" stroke="#7fd3ea" stroke-opacity="0.25" stroke-width="1.0"/>
<line x1="920.52" y1="463.61" x2="937.15" y2="473.80" stroke="#7fd3ea" stroke-opacity="0.25" stroke-width="1.0"/>
<line x1="919.75" y1="464.79" x2="935.82" y2="475.84" stroke="#7fd3ea" stroke-opacity="0.25" stroke-width="1.0"/>
<line x1="918.92" y1="465.94" x2="934.39" y2="477.81" stroke="#7fd3ea" stroke-opacity="0.25" stroke-width="1.0"/>
<line x1="918.03" y1="467.04" x2="932.86" y2="479.70" stroke="#7fd3ea" stroke-opacity="0.25" stroke-width="1.0"/>
<line x1="917.09" y1="468.09" x2="931.23" y2="481.51" stroke="#7fd3ea" stroke-opacity="0.25" stroke-width="1.0"/>
<line x1="916.09" y1="469.09" x2="929.51" y2="483.23" stroke="#7fd3ea" stroke-opacity="0.25" stroke-width="1.0"/>
<line x1="915.04" y1="470.03" x2="927.70" y2="484.86" stroke="#7fd3ea" stroke-opacity="0.25" stroke-width="1.0"/>
<line x1="913.94" y1="470.92" x2="925.81" y2="486.39" stroke="#7fd3ea" stroke-opacity="0.25" stroke-width="1.0"/>
<line x1="912.79" y1="471.75" x2="923.84" y2="487.82" stroke="#7fd3ea" stroke-opacity="0.25" stroke-width="1.0"/>
<line x1="911.61" y1="472.52" x2="921.80" y2="489.15" stroke="#7fd3ea" stroke-opacity="0.25" stroke-width="1.0"/>
<line x1="910.38" y1="473.23" x2="919.69" y2="490.36" stroke="#7fd3ea" stroke-opacity="0.25" stroke-width="1.0"/>
<line x1="909.12" y1="473.87" x2="917.52" y2="491.47" stroke="#7fd3ea" stroke-opacity="0.25" stroke-width="1.0"/>
<line x1="907.83" y1="474.44" x2="915.29" y2="492.46" stroke="#7fd3ea" stroke-opacity="0.25" stroke-width="1.0"/>
<line x1="906.51" y1="474.95" x2="913.02" y2="493.33" stroke="#7fd3ea" stroke-opacity="0.25" stroke-width="1.0"/>
<line x1="905.17" y1="475.39" x2="910.71" y2="494.09" stroke="#7fd3ea" stroke-opacity="0.25" stroke-width="1.0"/>
<line x1="903.80" y1="475.75" x2="908.36" y2="494.72" stroke="#7fd3ea" stroke-opacity="0.25" stroke-width="1.0"/>
<line x1="902.42" y1="476.05" x2="905.97" y2="495.22" stroke="#7fd3ea" stroke-opacity="0.25" stroke-width="1.0"/>
<line x1="901.02" y1="476.27" x2="903.57" y2="495.60" stroke="#7fd3ea" stroke-opacity="0.25" stroke-width="1.0"/>
<line x1="899.62" y1="476.42" x2="901.15" y2="495.86" stroke="#7fd3ea" stroke-opacity="0.25" stroke-width="1.0"/>
<line x1="898.21" y1="476.49" x2="898.72" y2="495.98" stroke="#7fd3ea" stroke-opacity="0.25" stroke-width="1.0"/>
<line x1="896.79" y1="476.49" x2="896.28" y2="495.98" stroke="#7fd3ea" stroke-opacity="0.25" stroke-width="1.0"/>
<line x1="895.38" y1="476.42" x2="893.85" y2="495.86" stroke="#7fd3ea" stroke-opacity="0.25" stroke-width="1.0"/>
<line x1="893.98" y1="476.27" x2="891.43" y2="495.60" stroke="#7fd3ea" stroke-opacity="0.25" stroke-width="1.0"/>
<line x1="892.58" y1="476.05" x2="889.03" y2="495.22" stroke="#7fd3ea" stroke-opacity="0.25" stroke-width="1.0"/>
<line x1="891.20" y1="475.75" x2="886.64" y2="494.72" stroke="#7fd3ea" stroke-opacity="0.25" stroke-width="1.0"/>
<line x1="889.83" y1="475.39" x2="884.29" y2="494.09" stroke="#7fd3ea" stroke-opacity="0.25" stroke-width="1.0"/>
<line x1="888.49" y1="474.95" x2="881.98" y2="493.33" stroke="#7fd3ea" stroke-opacity="0.25" stroke-width="1.0"/>
<line x1="887.17" y1="474.44" x2="879.71" y2="492.46" stroke="#7fd3ea" stroke-opacity="0.25" stroke-width="1.0"/>
<line x1="885.88" y1="473.87" x2="877.48" y2="491.47" stroke="#7fd3ea" stroke-opacity="0.25" stroke-width="1.0"/>
<line x1="884.62" y1="473.23" x2="875.31" y2="490.36" stroke="#7fd3ea" stroke-opacity="0.25" stroke-width="1.0"/>
<line x1="883.39" y1="472.52" x2="873.20" y2="489.15" stroke="#7fd3ea" stroke-opacity="0.25" stroke-width="1.0"/>
<line x1="882.21" y1="471.75" x2="871.16" y2="487.82" stroke="#7fd3ea" stroke-opacity="0.25" stroke-width="1.0"/>
<line x1="881.06" y1="470.92" x2="869.19" y2="486.39" stroke="#7fd3ea" stroke-opacity="0.25" stroke-width="1.0"/>
<line x1="879.96" y1="470.03" x2="867.30" y2="484.86" stroke="#7fd3ea" stroke-opacity="0.25" stroke-width="1.0"/>
<line x1="878.91" y1="469.09" x2="865.49" y2="483.23" stroke="#7fd3ea" stroke-opacity="0.25" stroke-width="1.0"/>
<line x1="877.91" y1="468.09" x2="863.77" y2="481.51" stroke="#7fd3ea" stroke-opacity="0.25" stroke-width="1.0"/>
<line x1="876.97" y1="467.04" x2="862.14" y2="479.70" stroke="#7fd3ea" stroke-opacity="0.25" stroke-width="1.0"/>
<line x1="876.08" y1="465.94" x2="860.61" y2="477.81" stroke="#7fd3ea" stroke-opacity="0.25" stroke-width="1.0"/>
<line x1="875.25" y1="464.79" x2="859.18" y2="475.84" stroke="#7fd3ea" stroke-opacity="0.25" stroke-width="1.0"/>
<line x1="874.48" y1="463.61" x2="857.85" y2="473.80" stroke="#7fd3ea" stroke-opacity="0.25" stroke-width="1.0"/>
<line x1="873.77" y1="462.38" x2="856.64" y2="471.69" stroke="#7fd3ea" stroke-opacity="0.25" stroke-width="1.0"/>
<line x1="873.13" y1="461.12" x2="855.53" y2="469.52" stroke="#7fd3ea" stroke-opacity="0.25" stroke-width="1.0"/>
<line x1="872.56" y1="459.83" x2="854.54" y2="467.29" stroke="#7fd3ea" stroke-opacity="0.25" stroke-width="1.0"/>
<line x1="872.05" y1="458.51" x2="853.67" y2="465.02" stroke="#7fd3ea" stroke-opacity="0.25" stroke-width="1.0"/>
<line x1="871.61" y1="457.17" x2="852.91" y2="462.71" stroke="#7fd3ea" stroke-opacity="0.25" stroke-width="1.0"/>
<line x1="871.25" y1="455.80" x2="852.28" y2="460.36" stroke="#7fd3ea" stroke-opacity="0.25" stroke-width="1.0"/>
<line x1="870.95" y1="454.42" x2="851.78" y2="457.97" stroke="#7fd3ea" stroke-opacity="0.25" stroke-width="1.0"/>
<line x1="870.73" y1="453.02" x2="851.40" y2="455.57" stroke="#7fd3ea" stroke-opacity="0.25" stroke-width="1.0"/>
<line x1="870.58" y1="451.62" x2="851.14" y2="453.15" stroke="#7fd3ea" stroke-opacity="0.25" stroke-width="1.0"/>
<line x1="870.51" y1="450.21" x2="851.02" y2="450.72" stroke="#7fd3ea" stroke-opacity="0.25" stroke-width="1.0"/>
<line x1="870.51" y1="448.79" x2="851.02" y2="448.28" stroke="#7fd3ea" stroke-opacity="0.25" stroke-width="1.0"/>
<line x1="870.58" y1="447.38" x2="851.14" y2="445.85" stroke="#7fd3ea" stroke-opacity="0.25" stroke-width="1.0"/>
<line x1="870.73" y1="445.98" x2="851.40" y2="443.43" stroke="#7fd3ea" stroke-opacity="0.25" stroke-width="1.0"/>
<line x1="870.95" y1="444.58" x2="851.78" y2="441.03" stroke="#7fd3ea" stroke-opacity="0.25" stroke-width="1.0"/>
<line x1="871.25" y1="443.20" x2="852.28" y2="438.64" stroke="#7fd3ea" stroke-opacity="0.25" stroke-width="1.0"/>
<line x1="871.61" y1="441.83" x2="852.91" y2="436.29" stroke="#7fd3ea" stroke-opacity="0.25" stroke-width="1.0"/>
<line x1="872.05" y1="440.49" x2="853.67" y2="433.98" stroke="#7fd3ea" stroke-opacity="0.25" stroke-width="1.0"/>
<line x1="872.56" y1="439.17" x2="854.54" y2="431.71" stroke="#7fd3ea" stroke-opacity="0.25" stroke-width="1.0"/>
<line x1="873.13" y1="437.88" x2="855.53" y2="429.48" stroke="#7fd3ea" stroke-opacity="0.25" stroke-width="1.0"/>
<line x1="873.77" y1="436.62" x2="856.64" y2="427.31" stroke="#7fd3ea" stroke-opacity="0.25" stroke-width="1.0"/>
<line x1="874.48" y1="435.39" x2="857.85" y2="425.20" stroke="#7fd3ea" stroke-opacity="0.25" stroke-width="1.0"/>
<line x1="875.25" y1="434.21" x2="859.18" y2="423.16" stroke="#7fd3ea" stroke-opacity="0.25" stroke-width="1.0"/>
<line x1="876.08" y1="433.06" x2="860.61" y2="421.19" stroke="#7fd3ea" stroke-opacity="0.25" stroke-width="1.0"/>
<line x1="876.97" y1="431.96" x2="862.14" y2="419.30" stroke="#7fd3ea" stroke-opacity="0.25" stroke-width="1.0"/>
<line x1="877.91" y1="430.91" x2="863.77" y2="417.49" stroke="#7fd3ea" stroke-opacity="0.25" stroke-width="1.0"/>
<line x1="878.91" y1="429.91" x2="865.49" y2="415.77" stroke="#7fd3ea" stroke-opacity="0.25" stroke-width="1.0"/>
<line x1="879.96" y1="428.97" x2="867.30" y2="414.14" stroke="#7fd3ea" stroke-opacity="0.25" stroke-width="1.0"/>
<line x1="881.06" y1="428.08" x2="869.19" y2="412.61" stroke="#7fd3ea" stroke-opacity="0.25" stroke-width="1.0"/>
<line x1="882.21" y1="427.25" x2="871.16" y2="411.18" stroke="#7fd3ea" stroke-opacity="0.25" stroke-width="1.0"/>
<line x1="883.39" y1="426.48" x2="873.20" y2="409.85" stroke="#7fd3ea" stroke-opacity="0.25" stroke-width="1.0"/>
<line x1="884.62" y1="425.77" x2="875.31" y2="408.64" stroke="#7fd3ea" stroke-opacity="0.25" stroke-width="1.0"/>
<line x1="885.88" y1="425.13" x2="877.48" y2="407.53" stroke="#7fd3ea" stroke-opacity="0.25" stroke-width="1.0"/>
<line x1="887.17" y1="424.56" x2="879.71" y2="406.54" stroke="#7fd3ea" stroke-opacity="0.25" stroke-width="1.0"/>
<line x1="888.49" y1="424.05" x2="881.98" y2="405.67" stroke="#7fd3ea" stroke-opacity="0.25" stroke-width="1.0"/>
<line x1="889.83" y1="423.61" x2="884.29" y2="404.91" stroke="#7fd3ea" stroke-opacity="0.25" stroke-width="1.0"/>
<line x1="891.20" y1="423.25" x2="886.64" y2="404.28" stroke="#7fd3ea" stroke-opacity="0.25" stroke-width="1.0"/>
<line x1="892.58" y1="422.95" x2="889.03" y2="403.78" stroke="#7fd3ea" stroke-opacity="0.25" stroke-width="1.0"/>
<line x1="893.98" y1="422.73" x2="891.43" y2="403.40" stroke="#7fd3ea" stroke-opacity="0.25" stroke-width="1.0"/>
<line x1="895.38" y1="422.58" x2="893.85" y2="403.14" stroke="#7fd3ea" stroke-opacity="0.25" stroke-width="1.0"/>
<line x1="896.79" y1="422.51" x2="896.28" y2="403.02" stroke="#7fd3ea" stroke-opacity="0.25" stroke-width="1.0"/>
<text x="876.8" y="453.7" font-family="Liberation Sans, sans-serif" font-size="11.5" font-weight="bold" fill="#86e4f6" text-anchor="start" textLength="41.5" lengthAdjust="spacingAndGlyphs">1420 W</text>
<path d="M897.5,534.5 A42,42 0 0 1 936.97,590.86" fill="none" stroke="#7fe9fb" stroke-width="9.5" stroke-linecap="round"/>
<text stroke="#86e4f6" stroke-width="0.35" x="877.0" y="581.7" font-family="Liberation Sans, sans-serif" font-size="13" font-weight="normal" fill="#86e4f6" text-anchor="start" textLength="41.0" lengthAdjust="spacingAndGlyphs">6.12 A</text>
<rect x="964" y="319.5" width="317" height="59" fill="#264e5e"/>
<rect x="964" y="382.5" width="93" height="248.2" fill="#254c5c"/>
<rect x="1060.6" y="382.5" width="93" height="248.2" fill="#254c5c"/>
<rect x="1157.2" y="382.5" width="123.8" height="121.2" fill="#254c5c"/>
<rect x="1157.2" y="507.5" width="123.8" height="123.2" fill="#254c5c"/>
<text x="1056.5" y="357.3" font-family="Liberation Sans, sans-serif" font-size="20" font-weight="bold" fill="#a6f0a6" text-anchor="start" textLength="132.0" lengthAdjust="spacingAndGlyphs">Smart Meter B</text>
<text x="982.7" y="413.8" font-family="Liberation Sans, sans-serif" font-size="14.6" font-weight="bold" fill="#a6f0a6" text-anchor="start" textLength="56.0" lengthAdjust="spacingAndGlyphs">VOLTAGE</text>
<text x="1068.7" y="413.8" font-family="Liberation Sans, sans-serif" font-size="14.6" font-weight="bold" fill="#a6f0a6" text-anchor="start" textLength="75.5" lengthAdjust="spacingAndGlyphs">FREQUENCY</text>
<text x="970.5" y="442.8" font-family="Liberation Sans, sans-serif" font-size="20" font-weight="bold" fill="#a6f0a6" text-anchor="start" textLength="80.5" lengthAdjust="spacingAndGlyphs">236.43 V</text>
<text x="1066.5" y="442.8" font-family="Liberation Sans, sans-serif" font-size="20" font-weight="bold" fill="#a6f0a6" text-anchor="start" textLength="79.5" lengthAdjust="spacingAndGlyphs">50.48 Hz</text>
<text x="1200.2" y="394.5" font-family="Liberation Sans, sans-serif" font-size="10.2" font-weight="bold" fill="#a6f0a6" text-anchor="start" textLength="36.5" lengthAdjust="spacingAndGlyphs">POWER</text>
<text x="1194.5" y="520.7" font-family="Liberation Sans, sans-serif" font-size="10.2" font-weight="bold" fill="#a6f0a6" text-anchor="start" textLength="48.0" lengthAdjust="spacingAndGlyphs">CURRENT</text>
<rect x="993.4" y="455.50" width="35.4" height="2.5" fill="#17305a"/>
<rect x="993.4" y="459.25" width="35.4" height="2.5" fill="#17305a"/>
<rect x="993.4" y="463.01" width="35.4" height="2.5" fill="#17305a"/>
<rect x="993.4" y="466.76" width="35.4" height="2.5" fill="#17305a"/>
<rect x="993.4" y="470.52" width="35.4" height="2.5" fill="#17305a"/>
<rect x="993.4" y="474.27" width="35.4" height="2.5" fill="#17305a"/>
<rect x="993.4" y="478.03" width="35.4" height="2.5" fill="#17305a"/>
<rect x="993.4" y="481.79" width="35.4" height="2.5" fill="#17305a"/>
<rect x="993.4" y="485.54" width="35.4" height="2.5" fill="#17305a"/>
<rect x="993.4" y="489.30" width="35.4" height="2.5" fill="#17305a"/>
<rect x="993.4" y="493.05" width="35.4" height="2.5" fill="#17305a"/>
<rect x="993.4" y="496.81" width="35.4" height="2.5" fill="#17305a"/>
<rect x="993.4" y="500.56" width="35.4" height="2.5" fill="#17305a"/>
<rect x="993.4" y="504.31" width="35.4" height="2.5" fill="#17305a"/>
<rect x="993.4" y="508.07" width="35.4" height="2.5" fill="#8fd6a0"/>
<rect x="993.4" y="511.82" width="35.4" height="2.5" fill="#8fd6a0"/>
<rect x="993.4" y="515.58" width="35.4" height="2.5" fill="#8fd6a0"/>
<rect x="993.4" y="519.34" width="35.4" height="2.5" fill="#8fd6a0"/>
<rect x="993.4" y="523.09" width="35.4" height="2.5" fill="#8fd6a0"/>
<rect x="993.4" y="526.85" width="35.4" height="2.5" fill="#8fd6a0"/>
<rect x="993.4" y="530.60" width="35.4" height="2.5" fill="#8fd6a0"/>
<rect x="993.4" y="534.36" width="35.4" height="2.5" fill="#8fd6a0"/>
<rect x="993.4" y="538.11" width="35.4" height="2.5" fill="#8fd6a0"/>
<rect x="993.4" y="541.87" width="35.4" height="2.5" fill="#8fd6a0"/>
<rect x="993.4" y="545.62" width="35.4" height="2.5" fill="#8fd6a0"/>
<rect x="993.4" y="549.38" width="35.4" height="2.5" fill="#8fd6a0"/>
<rect x="993.4" y="553.13" width="35.4" height="2.5" fill="#8fd6a0"/>
<rect x="993.4" y="556.88" width="35.4" height="2.5" fill="#8fd6a0"/>
<rect x="993.4" y="560.64" width="35.4" height="2.5" fill="#8fd6a0"/>
<rect x="993.4" y="564.39" width="35.4" height="2.5" fill="#8fd6a0"/>
<rect x="993.4" y="568.15" width="35.4" height="2.5" fill="#8fd6a0"/>
<rect x="993.4" y="571.90" width="35.4" height="2.5" fill="#8fd6a0"/>
<rect x="993.4" y="575.66" width="35.4" height="2.5" fill="#8fd6a0"/>
<rect x="993.4" y="579.41" width="35.4" height="2.5" fill="#8fd6a0"/>
<rect x="993.4" y="583.17" width="35.4" height="2.5" fill="#8fd6a0"/>
<rect x="993.4" y="586.92" width="35.4" height="2.5" fill="#8fd6a0"/>
<rect x="993.4" y="590.68" width="35.4" height="2.5" fill="#8fd6a0"/>
<rect x="993.4" y="594.43" width="35.4" height="2.5" fill="#8fd6a0"/>
<rect x="993.4" y="598.19" width="35.4" height="2.5" fill="#8fd6a0"/>
<rect x="993.4" y="601.94" width="35.4" height="2.5" fill="#8fd6a0"/>
<rect x="1088.0" y="455.50" width="35.4" height="2.5" fill="#17305a"/>
<rect x="1088.0" y="459.25" width="35.4" height="2.5" fill="#17305a"/>
<rect x="1088.0" y="463.01" width="35.4" height="2.5" fill="#17305a"/>
<rect x="1088.0" y="466.76" width="35.4" height="2.5" fill="#17305a"/>
<rect x="1088.0" y="470.52" width="35.4" height="2.5" fill="#17305a"/>
<rect x="1088.0" y="474.27" width="35.4" height="2.5" fill="#17305a"/>
<rect x="1088.0" y="478.03" width="35.4" height="2.5" fill="#17305a"/>
<rect x="1088.0" y="481.79" width="35.4" height="2.5" fill="#17305a"/>
<rect x="1088.0" y="485.54" width="35.4" height="2.5" fill="#17305a"/>
<rect x="1088.0" y="489.30" width="35.4" height="2.5" fill="#17305a"/>
<rect x="1088.0" y="493.05" width="35.4" height="2.5" fill="#8fd6a0"/>
<rect x="1088.0" y="496.81" width="35.4" height="2.5" fill="#8fd6a0"/>
<rect x="1088.0" y="500.56" width="35.4" height="2.5" fill="#8fd6a0"/>
<rect x="1088.0" y="504.31" width="35.4" height="2.5" fill="#8fd6a0"/>
<rect x="1088.0" y="508.07" width="35.4" height="2.5" fill="#8fd6a0"/>
<rect x="1088.0" y="511.82" width="35.4" height="2.5" fill="#8fd6a0"/>
<rect x="1088.0" y="515.58" width="35.4" height="2.5" fill="#8fd6a0"/>
<rect x="1088.0" y="519.34" width="35.4" height="2.5" fill="#8fd6a0"/>
<rect x="1088.0" y="523.09" width="35.4" height="2.5" fill="#8fd6a0"/>
<rect x="1088.0" y="526.85" width="35.4" height="2.5" fill="#8fd6a0"/>
<rect x="1088.0" y="530.60" width="35.4" height="2.5" fill="#8fd6a0"/>
<rect x="1088.0" y="534.36" width="35.4" height="2.5" fill="#8fd6a0"/>
<rect x="1088.0" y="538.11" width="35.4" height="2.5" fill="#8fd6a0"/>
<rect x="1088.0" y="541.87" width="35.4" height="2.5" fill="#8fd6a0"/>
<rect x="1088.0" y="545.62" width="35.4" height="2.5" fill="#8fd6a0"/>
<rect x="1088.0" y="549.38" width="35.4" height="2.5" fill="#8fd6a0"/>
<rect x="1088.0" y="553.13" width="35.4" height="2.5" fill="#8fd6a0"/>
<rect x="1088.0" y="556.88" width="35.4" height="2.5" fill="#8fd6a0"/>
<rect x="1088.0" y="560.64" width="35.4" height="2.5" fill="#8fd6a0"/>
<rect x="1088.0" y="564.39" width="35.4" height="2.5" fill="#8fd6a0"/>
<rect x="1088.0" y="568.15" width="35.4" height="2.5" fill="#8fd6a0"/>
<rect x="1088.0" y="571.90" width="35.4" height="2.5" fill="#8fd6a0"/>
<rect x="1088.0" y="575.66" width="35.4" height="2.5" fill="#8fd6a0"/>
<rect x="1088.0" y="579.41" width="35.4" height="2.5" fill="#8fd6a0"/>
<rect x="1088.0" y="583.17" width="35.4" height="2.5" fill="#8fd6a0"/>
<rect x="1088.0" y="586.92" width="35.4" height="2.5" fill="#8fd6a0"/>
<rect x="1088.0" y="590.68" width="35.4" height="2.5" fill="#8fd6a0"/>
<rect x="1088.0" y="594.43" width="35.4" height="2.5" fill="#8fd6a0"/>
<rect x="1088.0" y="598.19" width="35.4" height="2.5" fill="#8fd6a0"/>
<rect x="1088.0" y="601.94" width="35.4" height="2.5" fill="#8fd6a0"/>
<line x1="1219.21" y1="422.51" x2="1219.72" y2="403.02" stroke="#8fd6a0" stroke-opacity="0.95" stroke-width="1.8"/>
<line x1="1220.62" y1="422.58" x2="1222.15" y2="403.14" stroke="#8fd6a0" stroke-opacity="0.95" stroke-width="1.8"/>
<line x1="1222.02" y1="422.73" x2="1224.57" y2="403.40" stroke="#8fd6a0" stroke-opacity="0.95" stroke-width="1.8"/>
<line x1="1223.42" y1="422.95" x2="1226.97" y2="403.78" stroke="#8fd6a0" stroke-opacity="0.95" stroke-width="1.8"/>
<line x1="1224.80" y1="423.25" x2="1229.36" y2="404.28" stroke="#8fd6a0" stroke-opacity="0.95" stroke-width="1.8"/>
<line x1="1226.17" y1="423.61" x2="1231.71" y2="404.91" stroke="#8fd6a0" stroke-opacity="0.95" stroke-width="1.8"/>
<line x1="1227.51" y1="424.05" x2="1234.02" y2="405.67" stroke="#8fd6a0" stroke-opacity="0.95" stroke-width="1.8"/>
<line x1="1228.83" y1="424.56" x2="1236.29" y2="406.54" stroke="#8fd6a0" stroke-opacity="0.95" stroke-width="1.8"/>
<line x1="1230.12" y1="425.13" x2="1238.52" y2="407.53" stroke="#8fd6a0" stroke-opacity="0.95" stroke-width="1.8"/>
<line x1="1231.38" y1="425.77" x2="1240.69" y2="408.64" stroke="#8fd6a0" stroke-opacity="0.95" stroke-width="1.8"/>
<line x1="1232.61" y1="426.48" x2="1242.80" y2="409.85" stroke="#8fd6a0" stroke-opacity="0.95" stroke-width="1.8"/>
<line x1="1233.79" y1="427.25" x2="1244.84" y2="411.18" stroke="#8fd6a0" stroke-opacity="0.95" stroke-width="1.8"/>
<line x1="1234.94" y1="428.08" x2="1246.81" y2="412.61" stroke="#8fd6a0" stroke-opacity="0.95" stroke-width="1.8"/>
<line x1="1236.04" y1="428.97" x2="1248.70" y2="414.14" stroke="#8fd6a0" stroke-opacity="0.95" stroke-width="1.8"/>
<line x1="1237.09" y1="429.91" x2="1250.51" y2="415.77" stroke="#8fd6a0" stroke-opacity="0.95" stroke-width="1.8"/>
<line x1="1238.09" y1="430.91" x2="1252.23" y2="417.49" stroke="#8fd6a0" stroke-opacity="0.95" stroke-width="1.8"/>
<line x1="1239.03" y1="431.96" x2="1253.86" y2="419.30" stroke="#8fd6a0" stroke-opacity="0.95" stroke-width="1.8"/>
<line x1="1239.92" y1="433.06" x2="1255.39" y2="421.19" stroke="#8fd6a0" stroke-opacity="0.95" stroke-width="1.8"/>
<line x1="1240.75" y1="434.21" x2="1256.82" y2="423.16" stroke="#8fd6a0" stroke-opacity="0.95" stroke-width="1.8"/>
<line x1="1241.52" y1="435.39" x2="1258.15" y2="425.20" stroke="#8fd6a0" stroke-opacity="0.95" stroke-width="1.8"/>
<line x1="1242.23" y1="436.62" x2="1259.36" y2="427.31" stroke="#8fd6a0" stroke-opacity="0.95" stroke-width="1.8"/>
<line x1="1242.87" y1="437.88" x2="1260.47" y2="429.48" stroke="#8fd6a0" stroke-opacity="0.95" stroke-width="1.8"/>
<line x1="1243.44" y1="439.17" x2="1261.46" y2="431.71" stroke="#8fd6a0" stroke-opacity="0.95" stroke-width="1.8"/>
<line x1="1243.95" y1="440.49" x2="1262.33" y2="433.98" stroke="#8fd6a0" stroke-opacity="0.95" stroke-width="1.8"/>
<line x1="1244.39" y1="441.83" x2="1263.09" y2="436.29" stroke="#8fd6a0" stroke-opacity="0.95" stroke-width="1.8"/>
<line x1="1244.75" y1="443.20" x2="1263.72" y2="438.64" stroke="#8fd6a0" stroke-opacity="0.95" stroke-width="1.8"/>
<line x1="1245.05" y1="444.58" x2="1264.22" y2="441.03" stroke="#8fd6a0" stroke-opacity="0.95" stroke-width="1.8"/>
<line x1="1245.27" y1="445.98" x2="1264.60" y2="443.43" stroke="#8fd6a0" stroke-opacity="0.95" stroke-width="1.8"/>
<line x1="1245.42" y1="447.38" x2="1264.86" y2="445.85" stroke="#8fd6a0" stroke-opacity="0.95" stroke-width="1.8"/>
<line x1="1245.49" y1="448.79" x2="1264.98" y2="448.28" stroke="#8fd6a0" stroke-opacity="0.95" stroke-width="1.8"/>
<line x1="1245.49" y1="450.21" x2="1264.98" y2="450.72" stroke="#8fd6a0" stroke-opacity="0.95" stroke-width="1.8"/>
<line x1="1245.42" y1="451.62" x2="1264.86" y2="453.15" stroke="#8fd6a0" stroke-opacity="0.95" stroke-width="1.8"/>
<line x1="1245.27" y1="453.02" x2="1264.60" y2="455.57" stroke="#8fd6a0" stroke-opacity="0.95" stroke-width="1.8"/>
<line x1="1245.05" y1="454.42" x2="1264.22" y2="457.97" stroke="#8fd6a0" stroke-opacity="0.95" stroke-width="1.8"/>
<line x1="1244.75" y1="455.80" x2="1263.72" y2="460.36" stroke="#8fd6a0" stroke-opacity="0.95" stroke-width="1.8"/>
<line x1="1244.39" y1="457.17" x2="1263.09" y2="462.71" stroke="#8fd6a0" stroke-opacity="0.95" stroke-width="1.8"/>
<line x1="1243.95" y1="458.51" x2="1262.33" y2="465.02" stroke="#8fd6a0" stroke-opacity="0.95" stroke-width="1.8"/>
<line x1="1243.44" y1="459.83" x2="1261.46" y2="467.29" stroke="#8fd6a0" stroke-opacity="0.25" stroke-width="1.0"/>
<line x1="1242.87" y1="461.12" x2="1260.47" y2="469.52" stroke="#8fd6a0" stroke-opacity="0.25" stroke-width="1.0"/>
<line x1="1242.23" y1="462.38" x2="1259.36" y2="471.69" stroke="#8fd6a0" stroke-opacity="0.25" stroke-width="1.0"/>
<line x1="1241.52" y1="463.61" x2="1258.15" y2="473.80" stroke="#8fd6a0" stroke-opacity="0.25" stroke-width="1.0"/>
<line x1="1240.75" y1="464.79" x2="1256.82" y2="475.84" stroke="#8fd6a0" stroke-opacity="0.25" stroke-width="1.0"/>
<line x1="1239.92" y1="465.94" x2="1255.39" y2="477.81" stroke="#8fd6a0" stroke-opacity="0.25" stroke-width="1.0"/>
<line x1="1239.03" y1="467.04" x2="1253.86" y2="479.70" stroke="#8fd6a0" stroke-opacity="0.25" stroke-width="1.0"/>
<line x1="1238.09" y1="468.09" x2="1252.23" y2="481.51" stroke="#8fd6a0" stroke-opacity="0.25" stroke-width="1.0"/>
<line x1="1237.09" y1="469.09" x2="1250.51" y2="483.23" stroke="#8fd6a0" stroke-opacity="0.25" stroke-width="1.0"/>
<line x1="1236.04" y1="470.03" x2="1248.70" y2="484.86" stroke="#8fd6a0" stroke-opacity="0.25" stroke-width="1.0"/>
<line x1="1234.94" y1="470.92" x2="1246.81" y2="486.39" stroke="#8fd6a0" stroke-opacity="0.25" stroke-width="1.0"/>
<line x1="1233.79" y1="471.75" x2="1244.84" y2="487.82" stroke="#8fd6a0" stroke-opacity="0.25" stroke-width="1.0"/>
<line x1="1232.61" y1="472.52" x2="1242.80" y2="489.15" stroke="#8fd6a0" stroke-opacity="0.25" stroke-width="1.0"/>
<line x1="1231.38" y1="473.23" x2="1240.69" y2="490.36" stroke="#8fd6a0" stroke-opacity="0.25" stroke-width="1.0"/>
<line x1="1230.12" y1="473.87" x2="1238.52" y2="491.47" stroke="#8fd6a0" stroke-opacity="0.25" stroke-width="1.0"/>
<line x1="1228.83" y1="474.44" x2="1236.29" y2="492.46" stroke="#8fd6a0" stroke-opacity="0.25" stroke-width="1.0"/>
<line x1="1227.51" y1="474.95" x2="1234.02" y2="493.33" stroke="#8fd6a0" stroke-opacity="0.25" stroke-width="1.0"/>
<line x1="1226.17" y1="475.39" x2="1231.71" y2="494.09" stroke="#8fd6a0" stroke-opacity="0.25" stroke-width="1.0"/>
<line x1="1224.80" y1="475.75" x2="1229.36" y2="494.72" stroke="#8fd6a0" stroke-opacity="0.25" stroke-width="1.0"/>
<line x1="1223.42" y1="476.05" x2="1226.97" y2="495.22" stroke="#8fd6a0" stroke-opacity="0.25" stroke-width="1.0"/>
<line x1="1222.02" y1="476.27" x2="1224.57" y2="495.60" stroke="#8fd6a0" stroke-opacity="0.25" stroke-width="1.0"/>
<line x1="1220.62" y1="476.42" x2="1222.15" y2="495.86" stroke="#8fd6a0" stroke-opacity="0.25" stroke-width="1.0"/>
<line x1="1219.21" y1="476.49" x2="1219.72" y2="495.98" stroke="#8fd6a0" stroke-opacity="0.25" stroke-width="1.0"/>
<line x1="1217.79" y1="476.49" x2="1217.28" y2="495.98" stroke="#8fd6a0" stroke-opacity="0.25" stroke-width="1.0"/>
<line x1="1216.38" y1="476.42" x2="1214.85" y2="495.86" stroke="#8fd6a0" stroke-opacity="0.25" stroke-width="1.0"/>
<line x1="1214.98" y1="476.27" x2="1212.43" y2="495.60" stroke="#8fd6a0" stroke-opacity="0.25" stroke-width="1.0"/>
<line x1="1213.58" y1="476.05" x2="1210.03" y2="495.22" stroke="#8fd6a0" stroke-opacity="0.25" stroke-width="1.0"/>
<line x1="1212.20" y1="475.75" x2="1207.64" y2="494.72" stroke="#8fd6a0" stroke-opacity="0.25" stroke-width="1.0"/>
<line x1="1210.83" y1="475.39" x2="1205.29" y2="494.09" stroke="#8fd6a0" stroke-opacity="0.25" stroke-width="1.0"/>
<line x1="1209.49" y1="474.95" x2="1202.98" y2="493.33" stroke="#8fd6a0" stroke-opacity="0.25" stroke-width="1.0"/>
<line x1="1208.17" y1="474.44" x2="1200.71" y2="492.46" stroke="#8fd6a0" stroke-opacity="0.25" stroke-width="1.0"/>
<line x1="1206.88" y1="473.87" x2="1198.48" y2="491.47" stroke="#8fd6a0" stroke-opacity="0.25" stroke-width="1.0"/>
<line x1="1205.62" y1="473.23" x2="1196.31" y2="490.36" stroke="#8fd6a0" stroke-opacity="0.25" stroke-width="1.0"/>
<line x1="1204.39" y1="472.52" x2="1194.20" y2="489.15" stroke="#8fd6a0" stroke-opacity="0.25" stroke-width="1.0"/>
<line x1="1203.21" y1="471.75" x2="1192.16" y2="487.82" stroke="#8fd6a0" stroke-opacity="0.25" stroke-width="1.0"/>
<line x1="1202.06" y1="470.92" x2="1190.19" y2="486.39" stroke="#8fd6a0" stroke-opacity="0.25" stroke-width="1.0"/>
<line x1="1200.96" y1="470.03" x2="1188.30" y2="484.86" stroke="#8fd6a0" stroke-opacity="0.25" stroke-width="1.0"/>
<line x1="1199.91" y1="469.09" x2="1186.49" y2="483.23" stroke="#8fd6a0" stroke-opacity="0.25" stroke-width="1.0"/>
<line x1="1198.91" y1="468.09" x2="1184.77" y2="481.51" stroke="#8fd6a0" stroke-opacity="0.25" stroke-width="1.0"/>
<line x1="1197.97" y1="467.04" x2="1183.14" y2="479.70" stroke="#8fd6a0" stroke-opacity="0.25" stroke-width="1.0"/>
<line x1="1197.08" y1="465.94" x2="1181.61" y2="477.81" stroke="#8fd6a0" stroke-opacity="0.25" stroke-width="1.0"/>
<line x1="1196.25" y1="464.79" x2="1180.18" y2="475.84" stroke="#8fd6a0" stroke-opacity="0.25" stroke-width="1.0"/>
<line x1="1195.48" y1="463.61" x2="1178.85" y2="473.80" stroke="#8fd6a0" stroke-opacity="0.25" stroke-width="1.0"/>
<line x1="1194.77" y1="462.38" x2="1177.64" y2="471.69" stroke="#8fd6a0" stroke-opacity="0.25" stroke-width="1.0"/>
<line x1="1194.13" y1="461.12" x2="1176.53" y2="469.52" stroke="#8fd6a0" stroke-opacity="0.25" stroke-width="1.0"/>
<line x1="1193.56" y1="459.83" x2="1175.54" y2="467.29" stroke="#8fd6a0" stroke-opacity="0.25" stroke-width="1.0"/>
<line x1="1193.05" y1="458.51" x2="1174.67" y2="465.02" stroke="#8fd6a0" stroke-opacity="0.25" stroke-width="1.0"/>
<line x1="1192.61" y1="457.17" x2="1173.91" y2="462.71" stroke="#8fd6a0" stroke-opacity="0.25" stroke-width="1.0"/>
<line x1="1192.25" y1="455.80" x2="1173.28" y2="460.36" stroke="#8fd6a0" stroke-opacity="0.25" stroke-width="1.0"/>
<line x1="1191.95" y1="454.42" x2="1172.78" y2="457.97" stroke="#8fd6a0" stroke-opacity="0.25" stroke-width="1.0"/>
<line x1="1191.73" y1="453.02" x2="1172.40" y2="455.57" stroke="#8fd6a0" stroke-opacity="0.25" stroke-width="1.0"/>
<line x1="1191.58" y1="451.62" x2="1172.14" y2="453.15" stroke="#8fd6a0" stroke-opacity="0.25" stroke-width="1.0"/>
<line x1="1191.51" y1="450.21" x2="1172.02" y2="450.72" stroke="#8fd6a0" stroke-opacity="0.25" stroke-width="1.0"/>
<line x1="1191.51" y1="448.79" x2="1172.02" y2="448.28" stroke="#8fd6a0" stroke-opacity="0.25" stroke-width="1.0"/>
<line x1="1191.58" y1="447.38" x2="1172.14" y2="445.85" stroke="#8fd6a0" stroke-opacity="0.25" stroke-width="1.0"/>
<line x1="1191.73" y1="445.98" x2="1172.40" y2="443.43" stroke="#8fd6a0" stroke-opacity="0.25" stroke-width="1.0"/>
<line x1="1191.95" y1="444.58" x2="1172.78" y2="441.03" stroke="#8fd6a0" stroke-opacity="0.25" stroke-width="1.0"/>
<line x1="1192.25" y1="443.20" x2="1173.28" y2="438.64" stroke="#8fd6a0" stroke-opacity="0.25" stroke-width="1.0"/>
<line x1="1192.61" y1="441.83" x2="1173.91" y2="436.29" stroke="#8fd6a0" stroke-opacity="0.25" stroke-width="1.0"/>
<line x1="1193.05" y1="440.49" x2="1174.67" y2="433.98" stroke="#8fd6a0" stroke-opacity="0.25" stroke-width="1.0"/>
<line x1="1193.56" y1="439.17" x2="1175.54" y2="431.71" stroke="#8fd6a0" stroke-opacity="0.25" stroke-width="1.0"/>
<line x1="1194.13" y1="437.88" x2="1176.53" y2="429.48" stroke="#8fd6a0" stroke-opacity="0.25" stroke-width="1.0"/>
<line x1="1194.77" y1="436.62" x2="1177.64" y2="427.31" stroke="#8fd6a0" stroke-opacity="0.25" stroke-width="1.0"/>
<line x1="1195.48" y1="435.39" x2="1178.85" y2="425.20" stroke="#8fd6a0" stroke-opacity="0.25" stroke-width="1.0"/>
<line x1="1196.25" y1="434.21" x2="1180.18" y2="423.16" stroke="#8fd6a0" stroke-opacity="0.25" stroke-width="1.0"/>
<line x1="1197.08" y1="433.06" x2="1181.61" y2="421.19" stroke="#8fd6a0" stroke-opacity="0.25" stroke-width="1.0"/>
<line x1="1197.97" y1="431.96" x2="1183.14" y2="419.30" stroke="#8fd6a0" stroke-opacity="0.25" stroke-width="1.0"/>
<line x1="1198.91" y1="430.91" x2="1184.77" y2="417.49" stroke="#8fd6a0" stroke-opacity="0.25" stroke-width="1.0"/>
<line x1="1199.91" y1="429.91" x2="1186.49" y2="415.77" stroke="#8fd6a0" stroke-opacity="0.25" stroke-width="1.0"/>
<line x1="1200.96" y1="428.97" x2="1188.30" y2="414.14" stroke="#8fd6a0" stroke-opacity="0.25" stroke-width="1.0"/>
<line x1="1202.06" y1="428.08" x2="1190.19" y2="412.61" stroke="#8fd6a0" stroke-opacity="0.25" stroke-width="1.0"/>
<line x1="1203.21" y1="427.25" x2="1192.16" y2="411.18" stroke="#8fd6a0" stroke-opacity="0.25" stroke-width="1.0"/>
<line x1="1204.39" y1="426.48" x2="1194.20" y2="409.85" stroke="#8fd6a0" stroke-opacity="0.25" stroke-width="1.0"/>
<line x1="1205.62" y1="425.77" x2="1196.31" y2="408.64" stroke="#8fd6a0" stroke-opacity="0.25" stroke-width="1.0"/>
<line x1="1206.88" y1="425.13" x2="1198.48" y2="407.53" stroke="#8fd6a0" stroke-opacity="0.25" stroke-width="1.0"/>
<line x1="1208.17" y1="424.56" x2="1200.71" y2="406.54" stroke="#8fd6a0" stroke-opacity="0.25" stroke-width="1.0"/>
<line x1="1209.49" y1="424.05" x2="1202.98" y2="405.67" stroke="#8fd6a0" stroke-opacity="0.25" stroke-width="1.0"/>
<line x1="1210.83" y1="423.61" x2="1205.29" y2="404.91" stroke="#8fd6a0" stroke-opacity="0.25" stroke-width="1.0"/>
<line x1="1212.20" y1="423.25" x2="1207.64" y2="404.28" stroke="#8fd6a0" stroke-opacity="0.25" stroke-width="1.0"/>
<line x1="1213.58" y1="422.95" x2="1210.03" y2="403.78" stroke="#8fd6a0" stroke-opacity="0.25" stroke-width="1.0"/>
<line x1="1214.98" y1="422.73" x2="1212.43" y2="403.40" stroke="#8fd6a0" stroke-opacity="0.25" stroke-width="1.0"/>
<line x1="1216.38" y1="422.58" x2="1214.85" y2="403.14" stroke="#8fd6a0" stroke-opacity="0.25" stroke-width="1.0"/>
<line x1="1217.79" y1="422.51" x2="1217.28" y2="403.02" stroke="#8fd6a0" stroke-opacity="0.25" stroke-width="1.0"/>
<text x="1197.8" y="453.7" font-family="Liberation Sans, sans-serif" font-size="11.5" font-weight="bold" fill="#a6f0a6" text-anchor="start" textLength="41.5" lengthAdjust="spacingAndGlyphs">1721 W</text>
<path d="M1218.5,534.5 A42,42 0 0 1 1250.20,604.05" fill="none" stroke="#a5f5a8" stroke-width="9.5" stroke-linecap="round"/>
<text stroke="#a6f0a6" stroke-width="0.35" x="1198.0" y="581.7" font-family="Liberation Sans, sans-serif" font-size="13" font-weight="normal" fill="#a6f0a6" text-anchor="start" textLength="41.0" lengthAdjust="spacingAndGlyphs">7.28 A</text>
<rect x="1285" y="319.5" width="317" height="59" fill="#4b2f4e"/>
<rect x="1285" y="382.5" width="93" height="248.2" fill="#4a2c4b"/>
<rect x="1381.6" y="382.5" width="93" height="248.2" fill="#4a2c4b"/>
<rect x="1478.2" y="382.5" width="123.8" height="121.2" fill="#4a2c4b"/>
<rect x="1478.2" y="507.5" width="123.8" height="123.2" fill="#4a2c4b"/>
<text x="1377.5" y="357.3" font-family="Liberation Sans, sans-serif" font-size="20" font-weight="bold" fill="#f5a09b" text-anchor="start" textLength="132.0" lengthAdjust="spacingAndGlyphs">Smart Meter C</text>
<text x="1303.7" y="413.8" font-family="Liberation Sans, sans-serif" font-size="14.6" font-weight="bold" fill="#f5a09b" text-anchor="start" textLength="56.0" lengthAdjust="spacingAndGlyphs">VOLTAGE</text>
<text x="1389.7" y="413.8" font-family="Liberation Sans, sans-serif" font-size="14.6" font-weight="bold" fill="#f5a09b" text-anchor="start" textLength="75.5" lengthAdjust="spacingAndGlyphs">FREQUENCY</text>
<text x="1291.5" y="442.8" font-family="Liberation Sans, sans-serif" font-size="20" font-weight="bold" fill="#f5a09b" text-anchor="start" textLength="80.5" lengthAdjust="spacingAndGlyphs">238.65 V</text>
<text x="1387.5" y="442.8" font-family="Liberation Sans, sans-serif" font-size="20" font-weight="bold" fill="#f5a09b" text-anchor="start" textLength="79.5" lengthAdjust="spacingAndGlyphs">49.06 Hz</text>
<text x="1521.2" y="394.5" font-family="Liberation Sans, sans-serif" font-size="10.2" font-weight="bold" fill="#f5a09b" text-anchor="start" textLength="36.5" lengthAdjust="spacingAndGlyphs">POWER</text>
<text x="1515.5" y="520.7" font-family="Liberation Sans, sans-serif" font-size="10.2" font-weight="bold" fill="#f5a09b" text-anchor="start" textLength="48.0" lengthAdjust="spacingAndGlyphs">CURRENT</text>
<rect x="1314.4" y="455.50" width="35.4" height="2.5" fill="#281c48"/>
<rect x="1314.4" y="459.25" width="35.4" height="2.5" fill="#281c48"/>
<rect x="1314.4" y="463.01" width="35.4" height="2.5" fill="#281c48"/>
<rect x="1314.4" y="466.76" width="35.4" height="2.5" fill="#281c48"/>
<rect x="1314.4" y="470.52" width="35.4" height="2.5" fill="#281c48"/>
<rect x="1314.4" y="474.27" width="35.4" height="2.5" fill="#281c48"/>
<rect x="1314.4" y="478.03" width="35.4" height="2.5" fill="#f08f8c"/>
<rect x="1314.4" y="481.79" width="35.4" height="2.5" fill="#f08f8c"/>
<rect x="1314.4" y="485.54" width="35.4" height="2.5" fill="#f08f8c"/>
<rect x="1314.4" y="489.30" width="35.4" height="2.5" fill="#f08f8c"/>
<rect x="1314.4" y="493.05" width="35.4" height="2.5" fill="#f08f8c"/>
<rect x="1314.4" y="496.81" width="35.4" height="2.5" fill="#f08f8c"/>
<rect x="1314.4" y="500.56" width="35.4" height="2.5" fill="#f08f8c"/>
<rect x="1314.4" y="504.31" width="35.4" height="2.5" fill="#f08f8c"/>
<rect x="1314.4" y="508.07" width="35.4" height="2.5" fill="#f08f8c"/>
<rect x="1314.4" y="511.82" width="35.4" height="2.5" fill="#f08f8c"/>
<rect x="1314.4" y="515.58" width="35.4" height="2.5" fill="#f08f8c"/>
<rect x="1314.4" y="519.34" width="35.4" height="2.5" fill="#f08f8c"/>
<rect x="1314.4" y="523.09" width="35.4" height="2.5" fill="#f08f8c"/>
<rect x="1314.4" y="526.85" width="35.4" height="2.5" fill="#f08f8c"/>
<rect x="1314.4" y="530.60" width="35.4" height="2.5" fill="#f08f8c"/>
<rect x="1314.4" y="534.36" width="35.4" height="2.5" fill="#f08f8c"/>
<rect x="1314.4" y="538.11" width="35.4" height="2.5" fill="#f08f8c"/>
<rect x="1314.4" y="541.87" width="35.4" height="2.5" fill="#f08f8c"/>
<rect x="1314.4" y="545.62" width="35.4" height="2.5" fill="#f08f8c"/>
<rect x="1314.4" y="549.38" width="35.4" height="2.5" fill="#f08f8c"/>
<rect x="1314.4" y="553.13" width="35.4" height="2.5" fill="#f08f8c"/>
<rect x="1314.4" y="556.88" width="35.4" height="2.5" fill="#f08f8c"/>
<rect x="1314.4" y="560.64" width="35.4" height="2.5" fill="#f08f8c"/>
<rect x="1314.4" y="564.39" width="35.4" height="2.5" fill="#f08f8c"/>
<rect x="1314.4" y="568.15" width="35.4" height="2.5" fill="#f08f8c"/>
<rect x="1314.4" y="571.90" width="35.4" height="2.5" fill="#f08f8c"/>
<rect x="1314.4" y="575.66" width="35.4" height="2.5" fill="#f08f8c"/>
<rect x="1314.4" y="579.41" width="35.4" height="2.5" fill="#f08f8c"/>
<rect x="1314.4" y="583.17" width="35.4" height="2.5" fill="#f08f8c"/>
<rect x="1314.4" y="586.92" width="35.4" height="2.5" fill="#f08f8c"/>
<rect x="1314.4" y="590.68" width="35.4" height="2.5" fill="#f08f8c"/>
<rect x="1314.4" y="594.43" width="35.4" height="2.5" fill="#f08f8c"/>
<rect x="1314.4" y="598.19" width="35.4" height="2.5" fill="#f08f8c"/>
<rect x="1314.4" y="601.94" width="35.4" height="2.5" fill="#f08f8c"/>
<rect x="1409.0" y="455.50" width="35.4" height="2.5" fill="#281c48"/>
<rect x="1409.0" y="459.25" width="35.4" height="2.5" fill="#281c48"/>
<rect x="1409.0" y="463.01" width="35.4" height="2.5" fill="#281c48"/>
<rect x="1409.0" y="466.76" width="35.4" height="2.5" fill="#281c48"/>
<rect x="1409.0" y="470.52" width="35.4" height="2.5" fill="#281c48"/>
<rect x="1409.0" y="474.27" width="35.4" height="2.5" fill="#281c48"/>
<rect x="1409.0" y="478.03" width="35.4" height="2.5" fill="#281c48"/>
<rect x="1409.0" y="481.79" width="35.4" height="2.5" fill="#281c48"/>
<rect x="1409.0" y="485.54" width="35.4" height="2.5" fill="#281c48"/>
<rect x="1409.0" y="489.30" width="35.4" height="2.5" fill="#281c48"/>
<rect x="1409.0" y="493.05" width="35.4" height="2.5" fill="#281c48"/>
<rect x="1409.0" y="496.81" width="35.4" height="2.5" fill="#281c48"/>
<rect x="1409.0" y="500.56" width="35.4" height="2.5" fill="#281c48"/>
<rect x="1409.0" y="504.31" width="35.4" height="2.5" fill="#281c48"/>
<rect x="1409.0" y="508.07" width="35.4" height="2.5" fill="#281c48"/>
<rect x="1409.0" y="511.82" width="35.4" height="2.5" fill="#281c48"/>
<rect x="1409.0" y="515.58" width="35.4" height="2.5" fill="#281c48"/>
<rect x="1409.0" y="519.34" width="35.4" height="2.5" fill="#281c48"/>
<rect x="1409.0" y="523.09" width="35.4" height="2.5" fill="#281c48"/>
<rect x="1409.0" y="526.85" width="35.4" height="2.5" fill="#281c48"/>
<rect x="1409.0" y="530.60" width="35.4" height="2.5" fill="#281c48"/>
<rect x="1409.0" y="534.36" width="35.4" height="2.5" fill="#281c48"/>
<rect x="1409.0" y="538.11" width="35.4" height="2.5" fill="#281c48"/>
<rect x="1409.0" y="541.87" width="35.4" height="2.5" fill="#281c48"/>
<rect x="1409.0" y="545.62" width="35.4" height="2.5" fill="#281c48"/>
<rect x="1409.0" y="549.38" width="35.4" height="2.5" fill="#281c48"/>
<rect x="1409.0" y="553.13" width="35.4" height="2.5" fill="#281c48"/>
<rect x="1409.0" y="556.88" width="35.4" height="2.5" fill="#281c48"/>
<rect x="1409.0" y="560.64" width="35.4" height="2.5" fill="#281c48"/>
<rect x="1409.0" y="564.39" width="35.4" height="2.5" fill="#281c48"/>
<rect x="1409.0" y="568.15" width="35.4" height="2.5" fill="#281c48"/>
<rect x="1409.0" y="571.90" width="35.4" height="2.5" fill="#281c48"/>
<rect x="1409.0" y="575.66" width="35.4" height="2.5" fill="#281c48"/>
<rect x="1409.0" y="579.41" width="35.4" height="2.5" fill="#281c48"/>
<rect x="1409.0" y="583.17" width="35.4" height="2.5" fill="#281c48"/>
<rect x="1409.0" y="586.92" width="35.4" height="2.5" fill="#281c48"/>
<rect x="1409.0" y="590.68" width="35.4" height="2.5" fill="#281c48"/>
<rect x="1409.0" y="594.43" width="35.4" height="2.5" fill="#281c48"/>
<rect x="1409.0" y="598.19" width="35.4" height="2.5" fill="#281c48"/>
<rect x="1409.0" y="601.94" width="35.4" height="2.5" fill="#f08f8c"/>
<line x1="1540.21" y1="422.51" x2="1540.72" y2="403.02" stroke="#f08f8c" stroke-opacity="0.95" stroke-width="1.8"/>
<line x1="1541.62" y1="422.58" x2="1543.15" y2="403.14" stroke="#f08f8c" stroke-opacity="0.95" stroke-width="1.8"/>
<line x1="1543.02" y1="422.73" x2="1545.57" y2="403.40" stroke="#f08f8c" stroke-opacity="0.95" stroke-width="1.8"/>
<line x1="1544.42" y1="422.95" x2="1547.97" y2="403.78" stroke="#f08f8c" stroke-opacity="0.95" stroke-width="1.8"/>
<line x1="1545.80" y1="423.25" x2="1550.36" y2="404.28" stroke="#f08f8c" stroke-opacity="0.95" stroke-width="1.8"/>
<line x1="1547.17" y1="423.61" x2="1552.71" y2="404.91" stroke="#f08f8c" stroke-opacity="0.95" stroke-width="1.8"/>
<line x1="1548.51" y1="424.05" x2="1555.02" y2="405.67" stroke="#f08f8c" stroke-opacity="0.95" stroke-width="1.8"/>
<line x1="1549.83" y1="424.56" x2="1557.29" y2="406.54" stroke="#f08f8c" stroke-opacity="0.95" stroke-width="1.8"/>
<line x1="1551.12" y1="425.13" x2="1559.52" y2="407.53" stroke="#f08f8c" stroke-opacity="0.95" stroke-width="1.8"/>
<line x1="1552.38" y1="425.77" x2="1561.69" y2="408.64" stroke="#f08f8c" stroke-opacity="0.95" stroke-width="1.8"/>
<line x1="1553.61" y1="426.48" x2="1563.80" y2="409.85" stroke="#f08f8c" stroke-opacity="0.95" stroke-width="1.8"/>
<line x1="1554.79" y1="427.25" x2="1565.84" y2="411.18" stroke="#f08f8c" stroke-opacity="0.95" stroke-width="1.8"/>
<line x1="1555.94" y1="428.08" x2="1567.81" y2="412.61" stroke="#f08f8c" stroke-opacity="0.95" stroke-width="1.8"/>
<line x1="1557.04" y1="428.97" x2="1569.70" y2="414.14" stroke="#f08f8c" stroke-opacity="0.95" stroke-width="1.8"/>
<line x1="1558.09" y1="429.91" x2="1571.51" y2="415.77" stroke="#f08f8c" stroke-opacity="0.95" stroke-width="1.8"/>
<line x1="1559.09" y1="430.91" x2="1573.23" y2="417.49" stroke="#f08f8c" stroke-opacity="0.95" stroke-width="1.8"/>
<line x1="1560.03" y1="431.96" x2="1574.86" y2="419.30" stroke="#f08f8c" stroke-opacity="0.95" stroke-width="1.8"/>
<line x1="1560.92" y1="433.06" x2="1576.39" y2="421.19" stroke="#f08f8c" stroke-opacity="0.95" stroke-width="1.8"/>
<line x1="1561.75" y1="434.21" x2="1577.82" y2="423.16" stroke="#f08f8c" stroke-opacity="0.95" stroke-width="1.8"/>
<line x1="1562.52" y1="435.39" x2="1579.15" y2="425.20" stroke="#f08f8c" stroke-opacity="0.95" stroke-width="1.8"/>
<line x1="1563.23" y1="436.62" x2="1580.36" y2="427.31" stroke="#f08f8c" stroke-opacity="0.95" stroke-width="1.8"/>
<line x1="1563.87" y1="437.88" x2="1581.47" y2="429.48" stroke="#f08f8c" stroke-opacity="0.95" stroke-width="1.8"/>
<line x1="1564.44" y1="439.17" x2="1582.46" y2="431.71" stroke="#f08f8c" stroke-opacity="0.95" stroke-width="1.8"/>
<line x1="1564.95" y1="440.49" x2="1583.33" y2="433.98" stroke="#f08f8c" stroke-opacity="0.95" stroke-width="1.8"/>
<line x1="1565.39" y1="441.83" x2="1584.09" y2="436.29" stroke="#f08f8c" stroke-opacity="0.95" stroke-width="1.8"/>
<line x1="1565.75" y1="443.20" x2="1584.72" y2="438.64" stroke="#f08f8c" stroke-opacity="0.95" stroke-width="1.8"/>
<line x1="1566.05" y1="444.58" x2="1585.22" y2="441.03" stroke="#f08f8c" stroke-opacity="0.95" stroke-width="1.8"/>
<line x1="1566.27" y1="445.98" x2="1585.60" y2="443.43" stroke="#f08f8c" stroke-opacity="0.95" stroke-width="1.8"/>
<line x1="1566.42" y1="447.38" x2="1585.86" y2="445.85" stroke="#f08f8c" stroke-opacity="0.95" stroke-width="1.8"/>
<line x1="1566.49" y1="448.79" x2="1585.98" y2="448.28" stroke="#f08f8c" stroke-opacity="0.95" stroke-width="1.8"/>
<line x1="1566.49" y1="450.21" x2="1585.98" y2="450.72" stroke="#f08f8c" stroke-opacity="0.95" stroke-width="1.8"/>
<line x1="1566.42" y1="451.62" x2="1585.86" y2="453.15" stroke="#f08f8c" stroke-opacity="0.95" stroke-width="1.8"/>
<line x1="1566.27" y1="453.02" x2="1585.60" y2="455.57" stroke="#f08f8c" stroke-opacity="0.95" stroke-width="1.8"/>
<line x1="1566.05" y1="454.42" x2="1585.22" y2="457.97" stroke="#f08f8c" stroke-opacity="0.95" stroke-width="1.8"/>
<line x1="1565.75" y1="455.80" x2="1584.72" y2="460.36" stroke="#f08f8c" stroke-opacity="0.95" stroke-width="1.8"/>
<line x1="1565.39" y1="457.17" x2="1584.09" y2="462.71" stroke="#f08f8c" stroke-opacity="0.95" stroke-width="1.8"/>
<line x1="1564.95" y1="458.51" x2="1583.33" y2="465.02" stroke="#f08f8c" stroke-opacity="0.95" stroke-width="1.8"/>
<line x1="1564.44" y1="459.83" x2="1582.46" y2="467.29" stroke="#f08f8c" stroke-opacity="0.95" stroke-width="1.8"/>
<line x1="1563.87" y1="461.12" x2="1581.47" y2="469.52" stroke="#f08f8c" stroke-opacity="0.95" stroke-width="1.8"/>
<line x1="1563.23" y1="462.38" x2="1580.36" y2="471.69" stroke="#f08f8c" stroke-opacity="0.95" stroke-width="1.8"/>
<line x1="1562.52" y1="463.61" x2="1579.15" y2="473.80" stroke="#f08f8c" stroke-opacity="0.95" stroke-width="1.8"/>
<line x1="1561.75" y1="464.79" x2="1577.82" y2="475.84" stroke="#f08f8c" stroke-opacity="0.95" stroke-width="1.8"/>
<line x1="1560.92" y1="465.94" x2="1576.39" y2="477.81" stroke="#f08f8c" stroke-opacity="0.95" stroke-width="1.8"/>
<line x1="1560.03" y1="467.04" x2="1574.86" y2="479.70" stroke="#f08f8c" stroke-opacity="0.95" stroke-width="1.8"/>
<line x1="1559.09" y1="468.09" x2="1573.23" y2="481.51" stroke="#f08f8c" stroke-opacity="0.95" stroke-width="1.8"/>
<line x1="1558.09" y1="469.09" x2="1571.51" y2="483.23" stroke="#f08f8c" stroke-opacity="0.95" stroke-width="1.8"/>
<line x1="1557.04" y1="470.03" x2="1569.70" y2="484.86" stroke="#f08f8c" stroke-opacity="0.95" stroke-width="1.8"/>
<line x1="1555.94" y1="470.92" x2="1567.81" y2="486.39" stroke="#f08f8c" stroke-opacity="0.95" stroke-width="1.8"/>
<line x1="1554.79" y1="471.75" x2="1565.84" y2="487.82" stroke="#f08f8c" stroke-opacity="0.95" stroke-width="1.8"/>
<line x1="1553.61" y1="472.52" x2="1563.80" y2="489.15" stroke="#f08f8c" stroke-opacity="0.95" stroke-width="1.8"/>
<line x1="1552.38" y1="473.23" x2="1561.69" y2="490.36" stroke="#f08f8c" stroke-opacity="0.95" stroke-width="1.8"/>
<line x1="1551.12" y1="473.87" x2="1559.52" y2="491.47" stroke="#f08f8c" stroke-opacity="0.95" stroke-width="1.8"/>
<line x1="1549.83" y1="474.44" x2="1557.29" y2="492.46" stroke="#f08f8c" stroke-opacity="0.95" stroke-width="1.8"/>
<line x1="1548.51" y1="474.95" x2="1555.02" y2="493.33" stroke="#f08f8c" stroke-opacity="0.95" stroke-width="1.8"/>
<line x1="1547.17" y1="475.39" x2="1552.71" y2="494.09" stroke="#f08f8c" stroke-opacity="0.95" stroke-width="1.8"/>
<line x1="1545.80" y1="475.75" x2="1550.36" y2="494.72" stroke="#f08f8c" stroke-opacity="0.95" stroke-width="1.8"/>
<line x1="1544.42" y1="476.05" x2="1547.97" y2="495.22" stroke="#f08f8c" stroke-opacity="0.95" stroke-width="1.8"/>
<line x1="1543.02" y1="476.27" x2="1545.57" y2="495.60" stroke="#f08f8c" stroke-opacity="0.95" stroke-width="1.8"/>
<line x1="1541.62" y1="476.42" x2="1543.15" y2="495.86" stroke="#f08f8c" stroke-opacity="0.95" stroke-width="1.8"/>
<line x1="1540.21" y1="476.49" x2="1540.72" y2="495.98" stroke="#f08f8c" stroke-opacity="0.95" stroke-width="1.8"/>
<line x1="1538.79" y1="476.49" x2="1538.28" y2="495.98" stroke="#f08f8c" stroke-opacity="0.95" stroke-width="1.8"/>
<line x1="1537.38" y1="476.42" x2="1535.85" y2="495.86" stroke="#f08f8c" stroke-opacity="0.95" stroke-width="1.8"/>
<line x1="1535.98" y1="476.27" x2="1533.43" y2="495.60" stroke="#f08f8c" stroke-opacity="0.95" stroke-width="1.8"/>
<line x1="1534.58" y1="476.05" x2="1531.03" y2="495.22" stroke="#f08f8c" stroke-opacity="0.95" stroke-width="1.8"/>
<line x1="1533.20" y1="475.75" x2="1528.64" y2="494.72" stroke="#f08f8c" stroke-opacity="0.95" stroke-width="1.8"/>
<line x1="1531.83" y1="475.39" x2="1526.29" y2="494.09" stroke="#f08f8c" stroke-opacity="0.95" stroke-width="1.8"/>
<line x1="1530.49" y1="474.95" x2="1523.98" y2="493.33" stroke="#f08f8c" stroke-opacity="0.95" stroke-width="1.8"/>
<line x1="1529.17" y1="474.44" x2="1521.71" y2="492.46" stroke="#f08f8c" stroke-opacity="0.95" stroke-width="1.8"/>
<line x1="1527.88" y1="473.87" x2="1519.48" y2="491.47" stroke="#f08f8c" stroke-opacity="0.95" stroke-width="1.8"/>
<line x1="1526.62" y1="473.23" x2="1517.31" y2="490.36" stroke="#f08f8c" stroke-opacity="0.95" stroke-width="1.8"/>
<line x1="1525.39" y1="472.52" x2="1515.20" y2="489.15" stroke="#f08f8c" stroke-opacity="0.95" stroke-width="1.8"/>
<line x1="1524.21" y1="471.75" x2="1513.16" y2="487.82" stroke="#f08f8c" stroke-opacity="0.95" stroke-width="1.8"/>
<line x1="1523.06" y1="470.92" x2="1511.19" y2="486.39" stroke="#f08f8c" stroke-opacity="0.95" stroke-width="1.8"/>
<line x1="1521.96" y1="470.03" x2="1509.30" y2="484.86" stroke="#f08f8c" stroke-opacity="0.95" stroke-width="1.8"/>
<line x1="1520.91" y1="469.09" x2="1507.49" y2="483.23" stroke="#f08f8c" stroke-opacity="0.95" stroke-width="1.8"/>
<line x1="1519.91" y1="468.09" x2="1505.77" y2="481.51" stroke="#f08f8c" stroke-opacity="0.95" stroke-width="1.8"/>
<line x1="1518.97" y1="467.04" x2="1504.14" y2="479.70" stroke="#f08f8c" stroke-opacity="0.95" stroke-width="1.8"/>
<line x1="1518.08" y1="465.94" x2="1502.61" y2="477.81" stroke="#f08f8c" stroke-opacity="0.95" stroke-width="1.8"/>
<line x1="1517.25" y1="464.79" x2="1501.18" y2="475.84" stroke="#f08f8c" stroke-opacity="0.95" stroke-width="1.8"/>
<line x1="1516.48" y1="463.61" x2="1499.85" y2="473.80" stroke="#f08f8c" stroke-opacity="0.95" stroke-width="1.8"/>
<line x1="1515.77" y1="462.38" x2="1498.64" y2="471.69" stroke="#f08f8c" stroke-opacity="0.95" stroke-width="1.8"/>
<line x1="1515.13" y1="461.12" x2="1497.53" y2="469.52" stroke="#f08f8c" stroke-opacity="0.25" stroke-width="1.0"/>
<line x1="1514.56" y1="459.83" x2="1496.54" y2="467.29" stroke="#f08f8c" stroke-opacity="0.25" stroke-width="1.0"/>
<line x1="1514.05" y1="458.51" x2="1495.67" y2="465.02" stroke="#f08f8c" stroke-opacity="0.25" stroke-width="1.0"/>
<line x1="1513.61" y1="457.17" x2="1494.91" y2="462.71" stroke="#f08f8c" stroke-opacity="0.25" stroke-width="1.0"/>
<line x1="1513.25" y1="455.80" x2="1494.28" y2="460.36" stroke="#f08f8c" stroke-opacity="0.25" stroke-width="1.0"/>
<line x1="1512.95" y1="454.42" x2="1493.78" y2="457.97" stroke="#f08f8c" stroke-opacity="0.25" stroke-width="1.0"/>
<line x1="1512.73" y1="453.02" x2="1493.40" y2="455.57" stroke="#f08f8c" stroke-opacity="0.25" stroke-width="1.0"/>
<line x1="1512.58" y1="451.62" x2="1493.14" y2="453.15" stroke="#f08f8c" stroke-opacity="0.25" stroke-width="1.0"/>
<line x1="1512.51" y1="450.21" x2="1493.02" y2="450.72" stroke="#f08f8c" stroke-opacity="0.25" stroke-width="1.0"/>
<line x1="1512.51" y1="448.79" x2="1493.02" y2="448.28" stroke="#f08f8c" stroke-opacity="0.25" stroke-width="1.0"/>
<line x1="1512.58" y1="447.38" x2="1493.14" y2="445.85" stroke="#f08f8c" stroke-opacity="0.25" stroke-width="1.0"/>
<line x1="1512.73" y1="445.98" x2="1493.40" y2="443.43" stroke="#f08f8c" stroke-opacity="0.25" stroke-width="1.0"/>
<line x1="1512.95" y1="444.58" x2="1493.78" y2="441.03" stroke="#f08f8c" stroke-opacity="0.25" stroke-width="1.0"/>
<line x1="1513.25" y1="443.20" x2="1494.28" y2="438.64" stroke="#f08f8c" stroke-opacity="0.25" stroke-width="1.0"/>
<line x1="1513.61" y1="441.83" x2="1494.91" y2="436.29" stroke="#f08f8c" stroke-opacity="0.25" stroke-width="1.0"/>
<line x1="1514.05" y1="440.49" x2="1495.67" y2="433.98" stroke="#f08f8c" stroke-opacity="0.25" stroke-width="1.0"/>
<line x1="1514.56" y1="439.17" x2="1496.54" y2="431.71" stroke="#f08f8c" stroke-opacity="0.25" stroke-width="1.0"/>
<line x1="1515.13" y1="437.88" x2="1497.53" y2="429.48" stroke="#f08f8c" stroke-opacity="0.25" stroke-width="1.0"/>
<line x1="1515.77" y1="436.62" x2="1498.64" y2="427.31" stroke="#f08f8c" stroke-opacity="0.25" stroke-width="1.0"/>
<line x1="1516.48" y1="435.39" x2="1499.85" y2="425.20" stroke="#f08f8c" stroke-opacity="0.25" stroke-width="1.0"/>
<line x1="1517.25" y1="434.21" x2="1501.18" y2="423.16" stroke="#f08f8c" stroke-opacity="0.25" stroke-width="1.0"/>
<line x1="1518.08" y1="433.06" x2="1502.61" y2="421.19" stroke="#f08f8c" stroke-opacity="0.25" stroke-width="1.0"/>
<line x1="1518.97" y1="431.96" x2="1504.14" y2="419.30" stroke="#f08f8c" stroke-opacity="0.25" stroke-width="1.0"/>
<line x1="1519.91" y1="430.91" x2="1505.77" y2="417.49" stroke="#f08f8c" stroke-opacity="0.25" stroke-width="1.0"/>
<line x1="1520.91" y1="429.91" x2="1507.49" y2="415.77" stroke="#f08f8c" stroke-opacity="0.25" stroke-width="1.0"/>
<line x1="1521.96" y1="428.97" x2="1509.30" y2="414.14" stroke="#f08f8c" stroke-opacity="0.25" stroke-width="1.0"/>
<line x1="1523.06" y1="428.08" x2="1511.19" y2="412.61" stroke="#f08f8c" stroke-opacity="0.25" stroke-width="1.0"/>
<line x1="1524.21" y1="427.25" x2="1513.16" y2="411.18" stroke="#f08f8c" stroke-opacity="0.25" stroke-width="1.0"/>
<line x1="1525.39" y1="426.48" x2="1515.20" y2="409.85" stroke="#f08f8c" stroke-opacity="0.25" stroke-width="1.0"/>
<line x1="1526.62" y1="425.77" x2="1517.31" y2="408.64" stroke="#f08f8c" stroke-opacity="0.25" stroke-width="1.0"/>
<line x1="1527.88" y1="425.13" x2="1519.48" y2="407.53" stroke="#f08f8c" stroke-opacity="0.25" stroke-width="1.0"/>
<line x1="1529.17" y1="424.56" x2="1521.71" y2="406.54" stroke="#f08f8c" stroke-opacity="0.25" stroke-width="1.0"/>
<line x1="1530.49" y1="424.05" x2="1523.98" y2="405.67" stroke="#f08f8c" stroke-opacity="0.25" stroke-width="1.0"/>
<line x1="1531.83" y1="423.61" x2="1526.29" y2="404.91" stroke="#f08f8c" stroke-opacity="0.25" stroke-width="1.0"/>
<line x1="1533.20" y1="423.25" x2="1528.64" y2="404.28" stroke="#f08f8c" stroke-opacity="0.25" stroke-width="1.0"/>
<line x1="1534.58" y1="422.95" x2="1531.03" y2="403.78" stroke="#f08f8c" stroke-opacity="0.25" stroke-width="1.0"/>
<line x1="1535.98" y1="422.73" x2="1533.43" y2="403.40" stroke="#f08f8c" stroke-opacity="0.25" stroke-width="1.0"/>
<line x1="1537.38" y1="422.58" x2="1535.85" y2="403.14" stroke="#f08f8c" stroke-opacity="0.25" stroke-width="1.0"/>
<line x1="1538.79" y1="422.51" x2="1538.28" y2="403.02" stroke="#f08f8c" stroke-opacity="0.25" stroke-width="1.0"/>
<text x="1518.8" y="453.7" font-family="Liberation Sans, sans-serif" font-size="11.5" font-weight="bold" fill="#f5a09b" text-anchor="start" textLength="41.5" lengthAdjust="spacingAndGlyphs">3179 W</text>
<path d="M1539.5,534.5 A42,42 0 1 1 1503.13,597.50" fill="none" stroke="#f99ea0" stroke-width="9.5" stroke-linecap="round"/>
<text stroke="#f5a09b" stroke-width="0.35" x="1515.0" y="581.7" font-family="Liberation Sans, sans-serif" font-size="13" font-weight="normal" fill="#f5a09b" text-anchor="start" textLength="49.0" lengthAdjust="spacingAndGlyphs">13.32 A</text>
</svg>
</body></html>
